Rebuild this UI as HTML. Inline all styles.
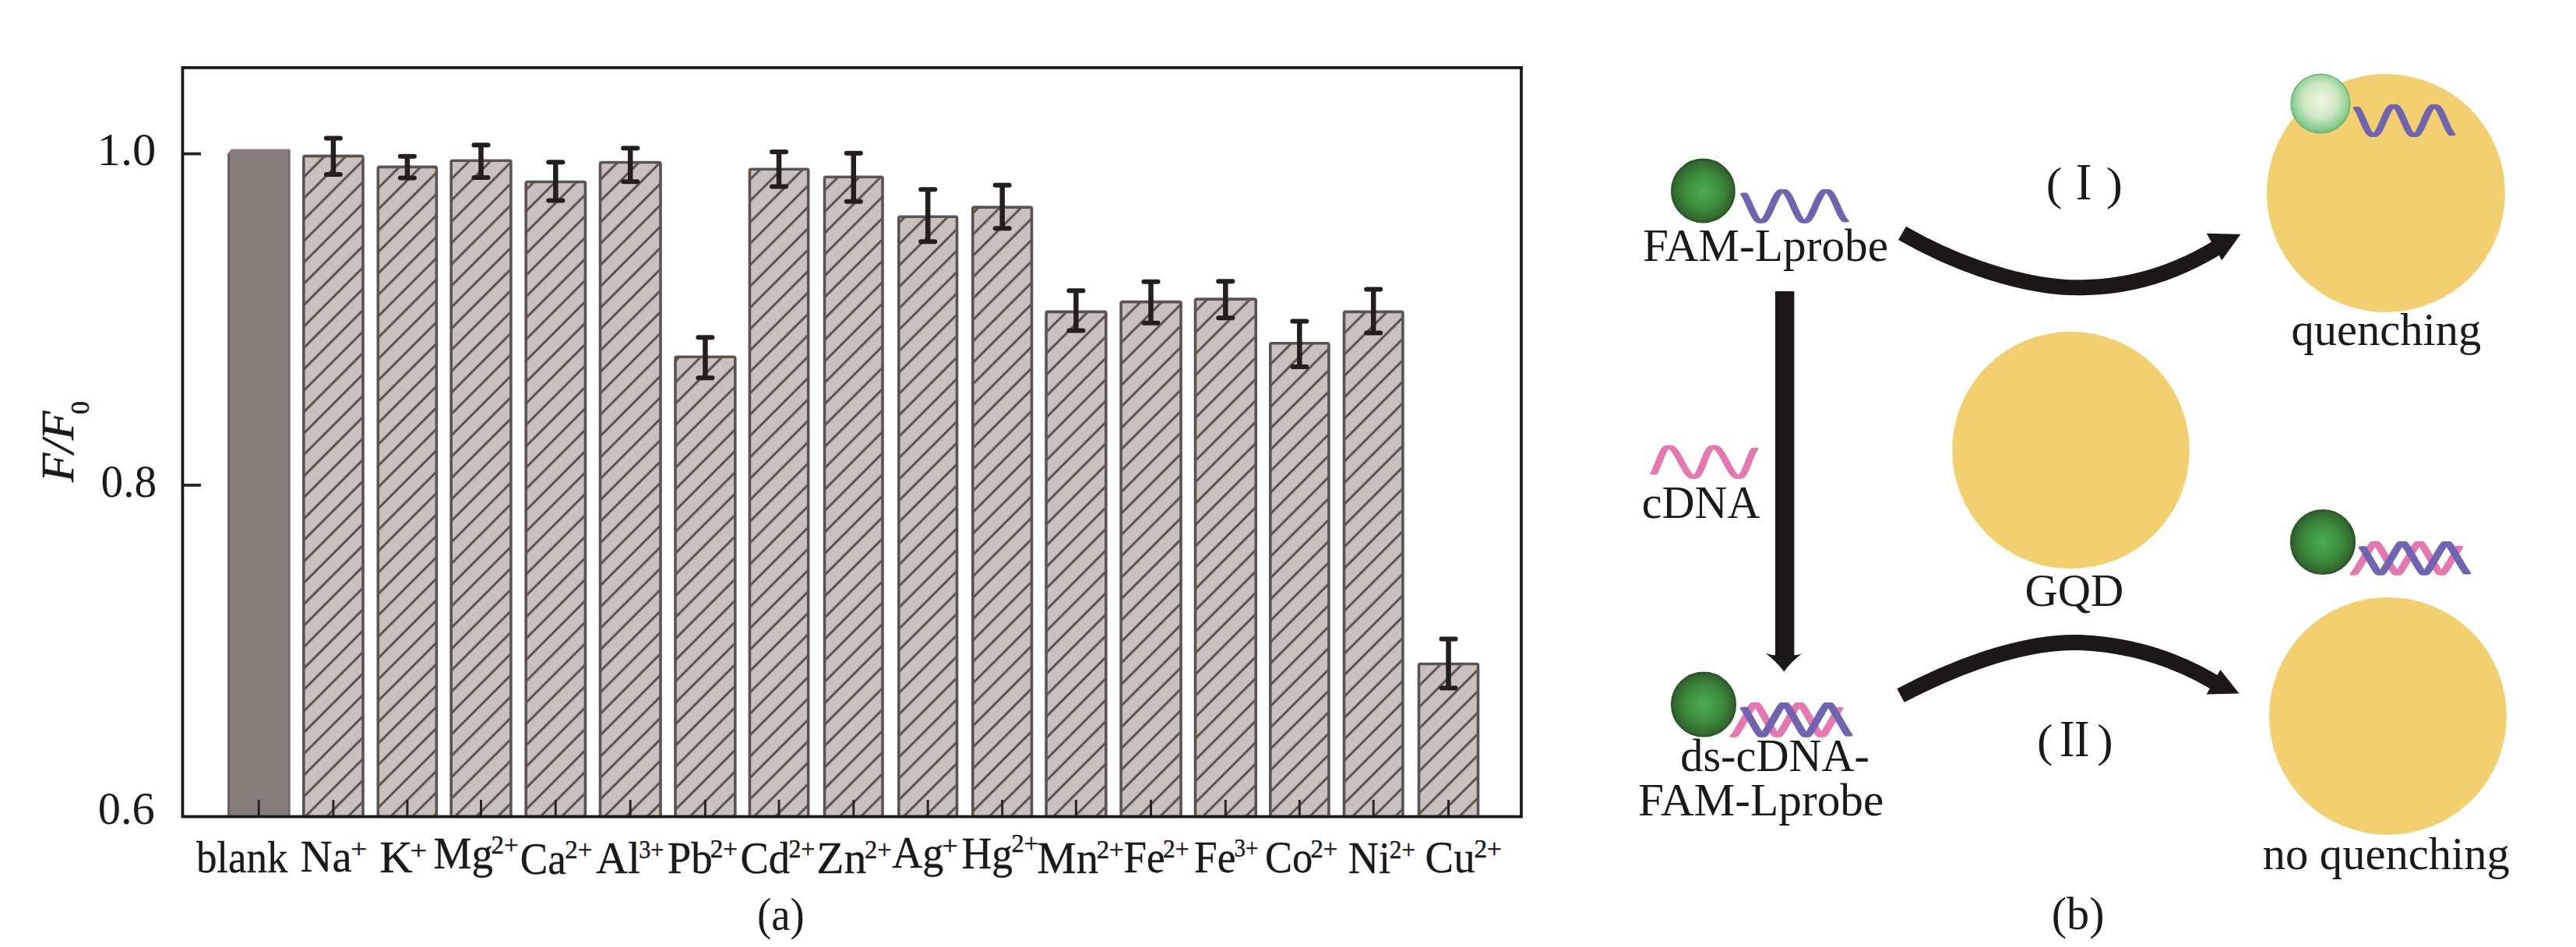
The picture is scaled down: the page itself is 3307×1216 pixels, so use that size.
<!DOCTYPE html>
<html><head><meta charset="utf-8"><style>
html,body{margin:0;padding:0;background:#fff;overflow:hidden;}
svg{display:block;}
text{font-family:"Liberation Serif", serif;}
</style></head><body>
<svg width="3307" height="1216" viewBox="0 0 3307 1216">
<defs>
<pattern id="hatch" patternUnits="userSpaceOnUse" width="60" height="19.4" patternTransform="rotate(-45)">
<rect x="0" y="0" width="60" height="19.4" fill="#c8c1be"/>
<rect x="0" y="8.3" width="60" height="2.8" fill="#514948"/>
</pattern>
<radialGradient id="gdark" cx="0.5" cy="0.5" r="0.52">
<stop offset="0" stop-color="#4aae52"/>
<stop offset="0.55" stop-color="#3d8c3d"/>
<stop offset="0.88" stop-color="#33692f"/>
<stop offset="1" stop-color="#285226"/>
</radialGradient>
<radialGradient id="glight" cx="0.5" cy="0.45" r="0.52">
<stop offset="0" stop-color="#eef6e2"/>
<stop offset="0.55" stop-color="#cfe8c2"/>
<stop offset="0.9" stop-color="#8fcf96"/>
<stop offset="1" stop-color="#7cc486"/>
</radialGradient>
</defs>
<rect x="0" y="0" width="3307" height="1216" fill="#ffffff"/>

<path d="M292.0,197.5 L297.0,191.5 L372.5,191.5 L372.5,1047.0 L292.0,1047.0 Z" fill="#877e7c"/>
<rect x="292.0" y="197.5" width="3.5" height="849.5" fill="#6e6563"/>
<rect x="369.5" y="193.5" width="3" height="853.5" fill="#776e6c"/>
<rect x="389.8" y="200.4" width="76.19999999999999" height="848.1" rx="2" fill="url(#hatch)" stroke="#5b5352" stroke-width="3.6"/>
<rect x="485.3" y="214.4" width="75.09999999999997" height="834.1" rx="2" fill="url(#hatch)" stroke="#5b5352" stroke-width="3.6"/>
<rect x="579.2" y="206.2" width="76.69999999999993" height="842.3" rx="2" fill="url(#hatch)" stroke="#5b5352" stroke-width="3.6"/>
<rect x="675.2" y="233.5" width="76.19999999999993" height="815.0" rx="2" fill="url(#hatch)" stroke="#5b5352" stroke-width="3.6"/>
<rect x="770.5" y="208.5" width="77.5" height="840.0" rx="2" fill="url(#hatch)" stroke="#5b5352" stroke-width="3.6"/>
<rect x="867.0" y="458.2" width="76.79999999999995" height="590.3" rx="2" fill="url(#hatch)" stroke="#5b5352" stroke-width="3.6"/>
<rect x="962.4" y="217.3" width="75.30000000000007" height="831.2" rx="2" fill="url(#hatch)" stroke="#5b5352" stroke-width="3.6"/>
<rect x="1058.5" y="227.3" width="74.5" height="821.2" rx="2" fill="url(#hatch)" stroke="#5b5352" stroke-width="3.6"/>
<rect x="1153.8" y="278.3" width="74.70000000000005" height="770.2" rx="2" fill="url(#hatch)" stroke="#5b5352" stroke-width="3.6"/>
<rect x="1248.8" y="266.1" width="75.70000000000005" height="782.4" rx="2" fill="url(#hatch)" stroke="#5b5352" stroke-width="3.6"/>
<rect x="1343.1" y="400.4" width="76.70000000000005" height="648.1" rx="2" fill="url(#hatch)" stroke="#5b5352" stroke-width="3.6"/>
<rect x="1439.1" y="387.6" width="76.90000000000009" height="660.9" rx="2" fill="url(#hatch)" stroke="#5b5352" stroke-width="3.6"/>
<rect x="1534.5" y="384.1" width="77.70000000000005" height="664.4" rx="2" fill="url(#hatch)" stroke="#5b5352" stroke-width="3.6"/>
<rect x="1630.8" y="440.7" width="75.10000000000014" height="607.8" rx="2" fill="url(#hatch)" stroke="#5b5352" stroke-width="3.6"/>
<rect x="1725.5" y="400.4" width="75.40000000000009" height="648.1" rx="2" fill="url(#hatch)" stroke="#5b5352" stroke-width="3.6"/>
<rect x="1821.5" y="852.5" width="76" height="196.0" rx="2" fill="url(#hatch)" stroke="#5b5352" stroke-width="3.6"/>
<line x1="427.9" y1="177.4" x2="427.9" y2="224.0" stroke="#231f1f" stroke-width="6.5"/>
<line x1="418.9" y1="177.4" x2="436.9" y2="177.4" stroke="#231f1f" stroke-width="6" stroke-linecap="round"/>
<line x1="418.9" y1="224.0" x2="436.9" y2="224.0" stroke="#231f1f" stroke-width="6" stroke-linecap="round"/>
<line x1="522.9" y1="200.7" x2="522.9" y2="228.6" stroke="#231f1f" stroke-width="6.5"/>
<line x1="513.9" y1="200.7" x2="531.9" y2="200.7" stroke="#231f1f" stroke-width="6" stroke-linecap="round"/>
<line x1="513.9" y1="228.6" x2="531.9" y2="228.6" stroke="#231f1f" stroke-width="6" stroke-linecap="round"/>
<line x1="617.5" y1="186.2" x2="617.5" y2="228.0" stroke="#231f1f" stroke-width="6.5"/>
<line x1="608.5" y1="186.2" x2="626.5" y2="186.2" stroke="#231f1f" stroke-width="6" stroke-linecap="round"/>
<line x1="608.5" y1="228.0" x2="626.5" y2="228.0" stroke="#231f1f" stroke-width="6" stroke-linecap="round"/>
<line x1="713.3" y1="208.2" x2="713.3" y2="257.5" stroke="#231f1f" stroke-width="6.5"/>
<line x1="704.3" y1="208.2" x2="722.3" y2="208.2" stroke="#231f1f" stroke-width="6" stroke-linecap="round"/>
<line x1="704.3" y1="257.5" x2="722.3" y2="257.5" stroke="#231f1f" stroke-width="6" stroke-linecap="round"/>
<line x1="809.2" y1="190.2" x2="809.2" y2="233.3" stroke="#231f1f" stroke-width="6.5"/>
<line x1="800.2" y1="190.2" x2="818.2" y2="190.2" stroke="#231f1f" stroke-width="6" stroke-linecap="round"/>
<line x1="800.2" y1="233.3" x2="818.2" y2="233.3" stroke="#231f1f" stroke-width="6" stroke-linecap="round"/>
<line x1="905.4" y1="433.2" x2="905.4" y2="485.3" stroke="#231f1f" stroke-width="6.5"/>
<line x1="896.4" y1="433.2" x2="914.4" y2="433.2" stroke="#231f1f" stroke-width="6" stroke-linecap="round"/>
<line x1="896.4" y1="485.3" x2="914.4" y2="485.3" stroke="#231f1f" stroke-width="6" stroke-linecap="round"/>
<line x1="1000.0" y1="194.9" x2="1000.0" y2="239.6" stroke="#231f1f" stroke-width="6.5"/>
<line x1="991.0" y1="194.9" x2="1009.0" y2="194.9" stroke="#231f1f" stroke-width="6" stroke-linecap="round"/>
<line x1="991.0" y1="239.6" x2="1009.0" y2="239.6" stroke="#231f1f" stroke-width="6" stroke-linecap="round"/>
<line x1="1095.8" y1="196.8" x2="1095.8" y2="258.7" stroke="#231f1f" stroke-width="6.5"/>
<line x1="1086.8" y1="196.8" x2="1104.8" y2="196.8" stroke="#231f1f" stroke-width="6" stroke-linecap="round"/>
<line x1="1086.8" y1="258.7" x2="1104.8" y2="258.7" stroke="#231f1f" stroke-width="6" stroke-linecap="round"/>
<line x1="1191.2" y1="243.3" x2="1191.2" y2="310.2" stroke="#231f1f" stroke-width="6.5"/>
<line x1="1182.2" y1="243.3" x2="1200.2" y2="243.3" stroke="#231f1f" stroke-width="6" stroke-linecap="round"/>
<line x1="1182.2" y1="310.2" x2="1200.2" y2="310.2" stroke="#231f1f" stroke-width="6" stroke-linecap="round"/>
<line x1="1286.7" y1="237.8" x2="1286.7" y2="293.2" stroke="#231f1f" stroke-width="6.5"/>
<line x1="1277.7" y1="237.8" x2="1295.7" y2="237.8" stroke="#231f1f" stroke-width="6" stroke-linecap="round"/>
<line x1="1277.7" y1="293.2" x2="1295.7" y2="293.2" stroke="#231f1f" stroke-width="6" stroke-linecap="round"/>
<line x1="1381.4" y1="373.3" x2="1381.4" y2="424.5" stroke="#231f1f" stroke-width="6.5"/>
<line x1="1372.4" y1="373.3" x2="1390.4" y2="373.3" stroke="#231f1f" stroke-width="6" stroke-linecap="round"/>
<line x1="1372.4" y1="424.5" x2="1390.4" y2="424.5" stroke="#231f1f" stroke-width="6" stroke-linecap="round"/>
<line x1="1477.5" y1="361.8" x2="1477.5" y2="414.7" stroke="#231f1f" stroke-width="6.5"/>
<line x1="1468.5" y1="361.8" x2="1486.5" y2="361.8" stroke="#231f1f" stroke-width="6" stroke-linecap="round"/>
<line x1="1468.5" y1="414.7" x2="1486.5" y2="414.7" stroke="#231f1f" stroke-width="6" stroke-linecap="round"/>
<line x1="1573.3" y1="361.3" x2="1573.3" y2="408.2" stroke="#231f1f" stroke-width="6.5"/>
<line x1="1564.3" y1="361.3" x2="1582.3" y2="361.3" stroke="#231f1f" stroke-width="6" stroke-linecap="round"/>
<line x1="1564.3" y1="408.2" x2="1582.3" y2="408.2" stroke="#231f1f" stroke-width="6" stroke-linecap="round"/>
<line x1="1668.3" y1="412.6" x2="1668.3" y2="470.9" stroke="#231f1f" stroke-width="6.5"/>
<line x1="1659.3" y1="412.6" x2="1677.3" y2="412.6" stroke="#231f1f" stroke-width="6" stroke-linecap="round"/>
<line x1="1659.3" y1="470.9" x2="1677.3" y2="470.9" stroke="#231f1f" stroke-width="6" stroke-linecap="round"/>
<line x1="1763.2" y1="371.6" x2="1763.2" y2="427.5" stroke="#231f1f" stroke-width="6.5"/>
<line x1="1754.2" y1="371.6" x2="1772.2" y2="371.6" stroke="#231f1f" stroke-width="6" stroke-linecap="round"/>
<line x1="1754.2" y1="427.5" x2="1772.2" y2="427.5" stroke="#231f1f" stroke-width="6" stroke-linecap="round"/>
<line x1="1859.5" y1="820.4" x2="1859.5" y2="883.6" stroke="#231f1f" stroke-width="6.5"/>
<line x1="1850.5" y1="820.4" x2="1868.5" y2="820.4" stroke="#231f1f" stroke-width="6" stroke-linecap="round"/>
<line x1="1850.5" y1="883.6" x2="1868.5" y2="883.6" stroke="#231f1f" stroke-width="6" stroke-linecap="round"/>
<line x1="332.2" y1="1027" x2="332.2" y2="1047" stroke="#2a2424" stroke-width="3"/>
<line x1="427.9" y1="1027" x2="427.9" y2="1047" stroke="#2a2424" stroke-width="3"/>
<line x1="522.9" y1="1027" x2="522.9" y2="1047" stroke="#2a2424" stroke-width="3"/>
<line x1="617.5" y1="1027" x2="617.5" y2="1047" stroke="#2a2424" stroke-width="3"/>
<line x1="713.3" y1="1027" x2="713.3" y2="1047" stroke="#2a2424" stroke-width="3"/>
<line x1="809.2" y1="1027" x2="809.2" y2="1047" stroke="#2a2424" stroke-width="3"/>
<line x1="905.4" y1="1027" x2="905.4" y2="1047" stroke="#2a2424" stroke-width="3"/>
<line x1="1000.0" y1="1027" x2="1000.0" y2="1047" stroke="#2a2424" stroke-width="3"/>
<line x1="1095.8" y1="1027" x2="1095.8" y2="1047" stroke="#2a2424" stroke-width="3"/>
<line x1="1191.2" y1="1027" x2="1191.2" y2="1047" stroke="#2a2424" stroke-width="3"/>
<line x1="1286.7" y1="1027" x2="1286.7" y2="1047" stroke="#2a2424" stroke-width="3"/>
<line x1="1381.4" y1="1027" x2="1381.4" y2="1047" stroke="#2a2424" stroke-width="3"/>
<line x1="1477.5" y1="1027" x2="1477.5" y2="1047" stroke="#2a2424" stroke-width="3"/>
<line x1="1573.3" y1="1027" x2="1573.3" y2="1047" stroke="#2a2424" stroke-width="3"/>
<line x1="1668.3" y1="1027" x2="1668.3" y2="1047" stroke="#2a2424" stroke-width="3"/>
<line x1="1763.2" y1="1027" x2="1763.2" y2="1047" stroke="#2a2424" stroke-width="3"/>
<line x1="1859.5" y1="1027" x2="1859.5" y2="1047" stroke="#2a2424" stroke-width="3"/>
<line x1="236" y1="197.5" x2="258" y2="197.5" stroke="#2a2424" stroke-width="3.8"/>
<line x1="236" y1="623.0" x2="258" y2="623.0" stroke="#2a2424" stroke-width="3.8"/>
<rect x="234.4" y="86.9" width="1718.6" height="961.7" fill="none" stroke="#1a1a1a" stroke-width="3.8"/>
<text transform="translate(124.67,212.00) scale(1.0351,1)" font-size="58.5" fill="#1a1a1a" stroke="#1a1a1a" stroke-width="0" style="white-space:pre">1.0</text>
<text transform="translate(129.62,638.00) scale(0.9793,1)" font-size="58.5" fill="#1a1a1a" stroke="#1a1a1a" stroke-width="0" style="white-space:pre">0.8</text>
<text transform="translate(125.78,1058.00) scale(0.9987,1)" font-size="58.5" fill="#1a1a1a" stroke="#1a1a1a" stroke-width="0" style="white-space:pre">0.6</text>
<g transform="translate(93.9,619.4) rotate(-90)"><text transform="translate(0.30,0) scale(1.0215,1)" font-size="59.5" font-style="italic" fill="#1a1a1a" stroke="#1a1a1a" stroke-width="0.5">F/F</text><text x="87.37" y="20" font-size="34" fill="#1a1a1a" stroke="#1a1a1a" stroke-width="0.6">0</text></g>
<text transform="translate(251.90,1120.10) scale(0.9129,1)" font-size="58" fill="#1a1a1a" stroke="#1a1a1a" stroke-width="0.3" style="white-space:pre">blank</text>
<text transform="translate(385.55,1118.90) scale(0.9804,1)" font-size="58" fill="#1a1a1a" stroke="#1a1a1a" stroke-width="0.3" style="white-space:pre">Na</text>
<text transform="translate(450.15,1101.30) scale(1.0903,1)" font-size="34" fill="#1a1a1a" stroke="#1a1a1a" stroke-width="0.5" style="white-space:pre">+</text>
<text transform="translate(487.29,1119.80) scale(1.0138,1)" font-size="58" fill="#1a1a1a" stroke="#1a1a1a" stroke-width="0.3" style="white-space:pre">K</text>
<text transform="translate(526.39,1102.50) scale(1.1220,1)" font-size="34" fill="#1a1a1a" stroke="#1a1a1a" stroke-width="0.5" style="white-space:pre">+</text>
<text transform="translate(556.50,1114.70) scale(0.9508,1)" font-size="58" fill="#1a1a1a" stroke="#1a1a1a" stroke-width="0.3" style="white-space:pre">Mg</text>
<text transform="translate(630.55,1095.90) scale(0.9703,1)" font-size="34" fill="#1a1a1a" stroke="#1a1a1a" stroke-width="0.5" style="white-space:pre">2+</text>
<text transform="translate(667.82,1121.50) scale(0.9152,1)" font-size="58" fill="#1a1a1a" stroke="#1a1a1a" stroke-width="0.3" style="white-space:pre">Ca</text>
<text transform="translate(725.35,1101.80) scale(0.9703,1)" font-size="34" fill="#1a1a1a" stroke="#1a1a1a" stroke-width="0.5" style="white-space:pre">2+</text>
<text transform="translate(765.03,1120.60) scale(0.9786,1)" font-size="58" fill="#1a1a1a" stroke="#1a1a1a" stroke-width="0.3" style="white-space:pre">Al</text>
<text transform="translate(820.25,1101.60) scale(0.8860,1)" font-size="34" fill="#1a1a1a" stroke="#1a1a1a" stroke-width="0.5" style="white-space:pre">3+</text>
<text transform="translate(856.81,1120.60) scale(0.9458,1)" font-size="58" fill="#1a1a1a" stroke="#1a1a1a" stroke-width="0.3" style="white-space:pre">Pb</text>
<text transform="translate(911.64,1101.30) scale(0.9733,1)" font-size="34" fill="#1a1a1a" stroke="#1a1a1a" stroke-width="0.5" style="white-space:pre">2+</text>
<text transform="translate(950.47,1121.10) scale(0.9387,1)" font-size="58" fill="#1a1a1a" stroke="#1a1a1a" stroke-width="0.3" style="white-space:pre">Cd</text>
<text transform="translate(1012.50,1101.30) scale(0.9339,1)" font-size="34" fill="#1a1a1a" stroke="#1a1a1a" stroke-width="0.5" style="white-space:pre">2+</text>
<text transform="translate(1048.23,1120.60) scale(0.9946,1)" font-size="58" fill="#1a1a1a" stroke="#1a1a1a" stroke-width="0.3" style="white-space:pre">Zn</text>
<text transform="translate(1109.98,1101.90) scale(0.9521,1)" font-size="34" fill="#1a1a1a" stroke="#1a1a1a" stroke-width="0.5" style="white-space:pre">2+</text>
<text transform="translate(1145.16,1113.80) scale(0.9358,1)" font-size="58" fill="#1a1a1a" stroke="#1a1a1a" stroke-width="0.3" style="white-space:pre">Ag</text>
<text transform="translate(1209.19,1096.80) scale(1.0649,1)" font-size="34" fill="#1a1a1a" stroke="#1a1a1a" stroke-width="0.5" style="white-space:pre">+</text>
<text transform="translate(1234.44,1114.70) scale(0.9245,1)" font-size="58" fill="#1a1a1a" stroke="#1a1a1a" stroke-width="0.3" style="white-space:pre">Hg</text>
<text transform="translate(1298.57,1093.80) scale(0.9551,1)" font-size="34" fill="#1a1a1a" stroke="#1a1a1a" stroke-width="0.5" style="white-space:pre">2+</text>
<text transform="translate(1331.26,1120.60) scale(0.9775,1)" font-size="58" fill="#1a1a1a" stroke="#1a1a1a" stroke-width="0.3" style="white-space:pre">Mn</text>
<text transform="translate(1407.66,1101.70) scale(0.9642,1)" font-size="34" fill="#1a1a1a" stroke="#1a1a1a" stroke-width="0.5" style="white-space:pre">2+</text>
<text transform="translate(1442.46,1120.00) scale(0.9146,1)" font-size="58" fill="#1a1a1a" stroke="#1a1a1a" stroke-width="0.3" style="white-space:pre">Fe</text>
<text transform="translate(1493.03,1100.80) scale(0.9187,1)" font-size="34" fill="#1a1a1a" stroke="#1a1a1a" stroke-width="0.5" style="white-space:pre">2+</text>
<text transform="translate(1533.05,1120.00) scale(0.9202,1)" font-size="58" fill="#1a1a1a" stroke="#1a1a1a" stroke-width="0.3" style="white-space:pre">Fe</text>
<text transform="translate(1584.51,1100.30) scale(0.8495,1)" font-size="34" fill="#1a1a1a" stroke="#1a1a1a" stroke-width="0.5" style="white-space:pre">3+</text>
<text transform="translate(1624.05,1120.20) scale(0.9057,1)" font-size="58" fill="#1a1a1a" stroke="#1a1a1a" stroke-width="0.3" style="white-space:pre">Co</text>
<text transform="translate(1682.57,1101.00) scale(0.9582,1)" font-size="34" fill="#1a1a1a" stroke="#1a1a1a" stroke-width="0.5" style="white-space:pre">2+</text>
<text transform="translate(1730.83,1120.90) scale(0.9355,1)" font-size="58" fill="#1a1a1a" stroke="#1a1a1a" stroke-width="0.3" style="white-space:pre">Ni</text>
<text transform="translate(1783.82,1102.20) scale(0.9218,1)" font-size="34" fill="#1a1a1a" stroke="#1a1a1a" stroke-width="0.5" style="white-space:pre">2+</text>
<text transform="translate(1829.55,1120.20) scale(0.9461,1)" font-size="58" fill="#1a1a1a" stroke="#1a1a1a" stroke-width="0.3" style="white-space:pre">Cu</text>
<text transform="translate(1892.43,1101.00) scale(0.9794,1)" font-size="34" fill="#1a1a1a" stroke="#1a1a1a" stroke-width="0.5" style="white-space:pre">2+</text>
<text transform="translate(972.10,1193.50) scale(0.9263,1)" font-size="59" fill="#1a1a1a" stroke="#1a1a1a" stroke-width="0" style="white-space:pre">(a)</text>
<circle cx="3063" cy="248" r="153" fill="#f3d06f"/>
<circle cx="2658.5" cy="578" r="152.3" fill="#f3d06f"/>
<circle cx="3065.5" cy="919.4" r="152.5" fill="#f3d06f"/>
<circle cx="2186.4" cy="245" r="40.5" fill="url(#gdark)" stroke="#2b5528" stroke-width="1.8"/>
<circle cx="2187" cy="904.5" r="41.2" fill="url(#gdark)" stroke="#2b5528" stroke-width="1.8"/>
<circle cx="2982" cy="696" r="41.2" fill="url(#gdark)" stroke="#2b5528" stroke-width="1.8"/>
<circle cx="2979" cy="133" r="37.8" fill="url(#glight)" stroke="#66b673" stroke-width="1.6"/>
<g fill="none" stroke="#7064b0" stroke-width="3.0" stroke-linejoin="round"><path id="p3059" d="M2238.26,248.20 L2238.51,248.53 L2238.76,248.88 L2239.01,249.24 L2239.26,249.61 L2239.51,250.00 L2239.76,250.39 L2240.01,250.80 L2240.26,251.22 L2240.51,251.64 L2240.76,252.08 L2241.01,252.53 L2241.26,252.99 L2241.51,253.46 L2241.76,253.93 L2242.01,254.42 L2242.26,254.91 L2242.51,255.41 L2242.76,255.92 L2243.01,256.44 L2243.26,256.96 L2243.51,257.48 L2243.76,258.02 L2244.01,258.56 L2244.26,259.10 L2244.51,259.65 L2244.75,260.20 L2245.00,260.76 L2245.25,261.31 L2245.50,261.88 L2245.75,262.44 L2246.00,263.00 L2246.25,263.57 L2246.50,264.14 L2246.75,264.71 L2247.00,265.27 L2247.25,265.84 L2247.50,266.41 L2247.75,266.97 L2248.00,267.54 L2248.25,268.10 L2248.50,268.66 L2248.75,269.21 L2249.00,269.77 L2249.25,270.31 L2249.50,270.86 L2249.75,271.40 L2250.00,271.93 L2250.25,272.46 L2250.50,272.98 L2250.75,273.49 L2251.00,274.00 L2251.25,274.50 L2251.50,274.99 L2251.75,275.48 L2252.00,275.95 L2252.25,276.42 L2252.50,276.88 L2252.75,277.33 L2253.00,277.77 L2253.25,278.19 L2253.50,278.61 L2253.75,279.02 L2254.00,279.41 L2254.25,279.80 L2254.50,280.17 L2254.75,280.53 L2255.00,280.87 L2255.25,281.21 L2255.49,281.53 L2255.74,281.84 L2255.99,282.13 L2256.24,282.41 L2256.49,282.68 L2256.74,282.93 L2256.99,283.17 L2257.24,283.39 L2257.49,283.60 L2257.74,283.79 L2257.99,283.97 L2258.24,284.13 L2258.49,284.28 L2258.74,284.41 L2258.99,284.53 L2259.24,284.63 L2259.49,284.71 L2259.74,284.78 L2259.99,284.84 L2260.24,284.87 L2260.49,284.89 L2260.74,284.90 L2260.99,284.89 L2261.24,284.86 L2261.49,284.82 L2261.74,284.76 L2261.99,284.69 L2262.24,284.60 L2262.49,284.49 L2262.74,284.37 L2262.99,284.23 L2263.24,284.08 L2263.49,283.91 L2263.74,283.73 L2263.99,283.53 L2264.24,283.32 L2264.49,283.09 L2264.74,282.85 L2264.99,282.59 L2265.24,282.32 L2265.49,282.04 L2265.74,281.74 L2265.99,281.43 L2266.24,281.10 L2266.48,280.76 L2266.73,280.41 L2266.98,280.05 L2267.23,279.67 L2267.48,279.29 L2267.73,278.89 L2267.98,278.48 L2268.23,278.06 L2268.48,277.63 L2268.73,277.19 L2268.98,276.73 L2269.23,276.27 L2269.48,275.80 L2269.73,275.32 L2269.98,274.84 L2270.23,274.34 L2270.48,273.84 L2270.73,273.33 L2270.98,272.81 L2271.23,272.29 L2271.48,271.76 L2271.73,271.22 L2271.98,270.68 L2272.23,270.14 L2272.48,269.59 L2272.73,269.04 L2272.98,268.48 L2273.23,267.92 L2273.48,267.36 L2273.73,266.79 L2273.98,266.23 L2274.23,265.66 L2274.48,265.09 L2274.73,264.52 L2274.98,263.96 L2275.23,263.39 L2275.48,262.82 L2275.73,262.26 L2275.98,261.70 L2276.23,261.13 L2276.48,260.58 L2276.73,260.02 L2276.98,259.47 L2277.22,258.92 L2277.47,258.38 L2277.72,257.85 L2277.97,257.31 L2278.22,256.79 L2278.47,256.27 L2278.72,255.76 L2278.97,255.25 L2279.22,254.75 L2279.47,254.26 L2279.72,253.78 L2279.97,253.31 L2280.22,252.84 L2280.47,252.39 L2280.72,251.94 L2280.97,251.51 L2281.22,251.08 L2281.47,250.67 L2281.72,250.26 L2281.97,249.87 L2282.22,249.49 L2282.47,249.12 L2282.72,248.77 L2282.97,248.43 L2283.22,248.10 L2283.47,247.78 L2283.72,247.48 L2283.97,247.19 L2284.22,246.91 L2284.47,246.65 L2284.72,246.40 L2284.97,246.17 L2285.22,245.95 L2285.47,245.74 L2285.72,245.56 L2285.97,245.38 L2286.22,245.22 L2286.47,245.08 L2286.72,244.95 L2286.97,244.84 L2287.22,244.74 L2287.47,244.66 L2287.72,244.60 L2287.96,244.55 L2288.21,244.52 L2288.46,244.50 L2288.71,244.50 L2288.96,244.52 L2289.21,244.55 L2289.46,244.60 L2289.71,244.66 L2289.96,244.74 L2290.21,244.83 L2290.46,244.94 L2290.71,245.07 L2290.96,245.21 L2291.21,245.37 L2291.46,245.54 L2291.71,245.73 L2291.96,245.93 L2292.21,246.15 L2292.46,246.38 L2292.71,246.63 L2292.96,246.89 L2293.21,247.16 L2293.46,247.45 L2293.71,247.75 L2293.96,248.07 L2294.21,248.40 L2294.46,248.74 L2294.71,249.09 L2294.96,249.46 L2295.21,249.84 L2295.46,250.23 L2295.71,250.63 L2295.96,251.04 L2296.21,251.47 L2296.46,251.90 L2296.71,252.35 L2296.96,252.80 L2297.21,253.27 L2297.46,253.74 L2297.71,254.22 L2297.96,254.71 L2298.21,255.21 L2298.46,255.71 L2298.71,256.23 L2298.95,256.74 L2299.20,257.27 L2299.45,257.80 L2299.70,258.34 L2299.95,258.88 L2300.20,259.43 L2300.45,259.98 L2300.70,260.53 L2300.95,261.09 L2301.20,261.65 L2301.45,262.21 L2301.70,262.77 L2301.95,263.34 L2302.20,263.91 L2302.45,264.48 L2302.70,265.04 L2302.95,265.61 L2303.20,266.18 L2303.45,266.75 L2303.70,267.31 L2303.95,267.87 L2304.20,268.43 L2304.45,268.99 L2304.70,269.54 L2304.95,270.09 L2305.20,270.64 L2305.45,271.18 L2305.70,271.71 L2305.95,272.24 L2306.20,272.77 L2306.45,273.28 L2306.70,273.79 L2306.95,274.30 L2307.20,274.79 L2307.45,275.28 L2307.70,275.76 L2307.95,276.23 L2308.20,276.69 L2308.45,277.15 L2308.70,277.59 L2308.95,278.02 L2309.20,278.44 L2309.45,278.85 L2309.69,279.25 L2309.94,279.64 L2310.19,280.02 L2310.44,280.38 L2310.69,280.73 L2310.94,281.07 L2311.19,281.40 L2311.44,281.71 L2311.69,282.01 L2311.94,282.30 L2312.19,282.57 L2312.44,282.83 L2312.69,283.07 L2312.94,283.30 L2313.19,283.51 L2313.44,283.71 L2313.69,283.90 L2313.94,284.07 L2314.19,284.22 L2314.44,284.36 L2314.69,284.48 L2314.94,284.59 L2315.19,284.68 L2315.44,284.76 L2315.69,284.82 L2315.94,284.86 L2316.19,284.89 L2316.44,284.90 L2316.69,284.90 L2316.94,284.88 L2317.19,284.84 L2317.44,284.79 L2317.69,284.72 L2317.94,284.64 L2318.19,284.54 L2318.44,284.42 L2318.69,284.29 L2318.94,284.14 L2319.19,283.98 L2319.44,283.81 L2319.69,283.61 L2319.94,283.41 L2320.19,283.19 L2320.44,282.95 L2320.68,282.70 L2320.93,282.43 L2321.18,282.15 L2321.43,281.86 L2321.68,281.56 L2321.93,281.24 L2322.18,280.90 L2322.43,280.56 L2322.68,280.20 L2322.93,279.83 L2323.18,279.45 L2323.43,279.05 L2323.68,278.65 L2323.93,278.23 L2324.18,277.80 L2324.43,277.37 L2324.68,276.92 L2324.93,276.46 L2325.18,275.99 L2325.43,275.52 L2325.68,275.04 L2325.93,274.54 L2326.18,274.04 L2326.43,273.54 L2326.68,273.02 L2326.93,272.50 L2327.18,271.97 L2327.43,271.44 L2327.68,270.90 L2327.93,270.36 L2328.18,269.81 L2328.43,269.26 L2328.68,268.71 L2328.93,268.15 L2329.18,267.59 L2329.43,267.02 L2329.68,266.46 L2329.93,265.89 L2330.18,265.32 L2330.43,264.76 L2330.68,264.19 L2330.93,263.62 L2331.18,263.05 L2331.42,262.49 L2331.67,261.92 L2331.92,261.36 L2332.17,260.80 L2332.42,260.25 L2332.67,259.69 L2332.92,259.15 L2333.17,258.60 L2333.42,258.06 L2333.67,257.53 L2333.92,257.00 L2334.17,256.48 L2334.42,255.96 L2334.67,255.45 L2334.92,254.95 L2335.17,254.46 L2335.42,253.97 L2335.67,253.50 L2335.92,253.03 L2336.17,252.57 L2336.42,252.12 L2336.67,251.68 L2336.92,251.25 L2337.17,250.83 L2337.42,250.43 L2337.67,250.03 L2337.92,249.64 L2338.17,249.27 L2338.42,248.91 L2338.67,248.56 L2338.92,248.23 L2339.17,247.91 L2339.42,247.60 L2339.67,247.30 L2339.92,247.02 L2340.17,246.75 L2340.42,246.50 L2340.67,246.26 L2340.92,246.03 L2341.17,245.82 L2341.42,245.63 L2341.67,245.45 L2341.92,245.29 L2342.16,245.14 L2342.41,245.00 L2342.66,244.88 L2342.91,244.78 L2343.16,244.70 L2343.41,244.62 L2343.66,244.57 L2343.91,244.53 L2344.16,244.51 L2344.41,244.50 L2344.66,244.51 L2344.91,244.53 L2345.16,244.57 L2345.41,244.63 L2345.66,244.70 L2345.91,244.79 L2346.16,244.90 L2346.41,245.02 L2346.66,245.15 L2346.91,245.30 L2347.16,245.47 L2347.41,245.65 L2347.66,245.85 L2347.91,246.06 L2348.16,246.28 L2348.41,246.52 L2348.66,246.78 L2348.91,247.05 L2349.16,247.33 L2349.41,247.63 L2349.66,247.94 L2349.91,248.26 L2350.16,248.60 L2350.41,248.95 L2350.66,249.31 L2350.91,249.68 L2351.16,250.07 L2351.41,250.47 L2351.66,250.88 L2351.91,251.30 L2352.16,251.73 L2352.41,252.17 L2352.66,252.62 L2352.91,253.08 L2353.15,253.55 L2353.40,254.02 L2353.65,254.51 L2353.90,255.00 L2354.15,255.51 L2354.40,256.02 L2354.65,256.53 L2354.90,257.06 L2355.15,257.58 L2355.40,258.12 L2355.65,258.66 L2355.90,259.20 L2356.15,259.75 L2356.40,260.30 L2356.65,260.86 L2356.90,261.42 L2357.15,261.98 L2357.40,262.55 L2357.65,263.11 L2357.90,263.68 L2358.15,264.25 L2358.40,264.81 L2358.65,265.38 L2358.90,265.95 L2359.15,266.52 L2359.40,267.08 L2359.65,267.64 L2359.90,268.20 L2360.15,268.76 L2360.40,269.32 L2360.65,269.87 L2360.90,270.42 L2361.15,270.96 L2361.40,271.50 L2361.65,272.03 L2361.90,272.55 L2362.15,273.07 L2362.40,273.59 L2362.65,274.09 L2362.90,274.59 L2363.15,275.09 L2363.40,275.57 L2363.65,276.04 L2363.89,276.51 L2364.14,276.96 L2364.39,277.41 L2364.64,277.85 L2364.89,278.27 L2365.14,278.69 L2365.39,279.09 L2365.64,279.49 L2365.89,279.87 L2366.14,280.24 L2366.39,280.59 L2366.64,280.94 L2366.89,281.27 L2367.14,281.59 L2367.39,281.89 L2367.64,282.18 L2367.89,282.46 L2368.14,282.73 L2368.39,282.97 L2368.64,283.21 L2368.89,283.43 L2369.14,283.63 L2369.39,283.83 L2369.64,284.00 L2369.89,284.16 L2370.14,284.30"/><use href="#p3059" transform="translate(-3.25,0)"/><use href="#p3059" transform="translate(-1.95,0)"/><use href="#p3059" transform="translate(-0.65,0)"/><use href="#p3059" transform="translate(0.65,0)"/><use href="#p3059" transform="translate(1.95,0)"/><use href="#p3059" transform="translate(3.25,0)"/></g>
<g fill="none" stroke="#7064b0" stroke-width="3.0" stroke-linejoin="round"><path id="p99794" d="M3024.68,137.77 L3024.92,138.03 L3025.15,138.30 L3025.39,138.59 L3025.62,138.89 L3025.86,139.20 L3026.09,139.52 L3026.33,139.86 L3026.56,140.20 L3026.80,140.56 L3027.03,140.93 L3027.27,141.32 L3027.50,141.71 L3027.74,142.11 L3027.97,142.53 L3028.21,142.95 L3028.44,143.38 L3028.68,143.83 L3028.91,144.28 L3029.15,144.74 L3029.38,145.20 L3029.62,145.68 L3029.85,146.16 L3030.09,146.65 L3030.32,147.15 L3030.56,147.65 L3030.79,148.16 L3031.03,148.67 L3031.26,149.19 L3031.50,149.72 L3031.73,150.24 L3031.97,150.78 L3032.20,151.31 L3032.44,151.85 L3032.67,152.39 L3032.90,152.93 L3033.14,153.48 L3033.37,154.02 L3033.61,154.57 L3033.84,155.11 L3034.08,155.66 L3034.31,156.20 L3034.55,156.75 L3034.78,157.29 L3035.02,157.83 L3035.25,158.37 L3035.49,158.91 L3035.72,159.44 L3035.96,159.97 L3036.19,160.49 L3036.43,161.01 L3036.66,161.53 L3036.90,162.04 L3037.13,162.55 L3037.37,163.05 L3037.60,163.54 L3037.84,164.02 L3038.07,164.50 L3038.31,164.97 L3038.54,165.44 L3038.78,165.89 L3039.01,166.34 L3039.25,166.78 L3039.48,167.20 L3039.72,167.62 L3039.95,168.03 L3040.19,168.43 L3040.42,168.81 L3040.66,169.19 L3040.89,169.55 L3041.13,169.90 L3041.36,170.24 L3041.60,170.57 L3041.83,170.89 L3042.07,171.19 L3042.30,171.48 L3042.54,171.76 L3042.77,172.02 L3043.01,172.27 L3043.24,172.51 L3043.48,172.73 L3043.71,172.94 L3043.95,173.13 L3044.18,173.31 L3044.42,173.48 L3044.65,173.63 L3044.89,173.76 L3045.12,173.88 L3045.36,173.99 L3045.59,174.08 L3045.83,174.15 L3046.06,174.21 L3046.30,174.26 L3046.53,174.29 L3046.76,174.30 L3047.00,174.30 L3047.23,174.28 L3047.47,174.25 L3047.70,174.20 L3047.94,174.13 L3048.17,174.06 L3048.41,173.96 L3048.64,173.85 L3048.88,173.73 L3049.11,173.59 L3049.35,173.43 L3049.58,173.27 L3049.82,173.08 L3050.05,172.88 L3050.29,172.67 L3050.52,172.45 L3050.76,172.21 L3050.99,171.95 L3051.23,171.68 L3051.46,171.40 L3051.70,171.11 L3051.93,170.80 L3052.17,170.48 L3052.40,170.15 L3052.64,169.81 L3052.87,169.45 L3053.11,169.08 L3053.34,168.71 L3053.58,168.32 L3053.81,167.92 L3054.05,167.51 L3054.28,167.09 L3054.52,166.66 L3054.75,166.22 L3054.99,165.77 L3055.22,165.31 L3055.46,164.85 L3055.69,164.37 L3055.93,163.89 L3056.16,163.40 L3056.40,162.91 L3056.63,162.41 L3056.87,161.90 L3057.10,161.39 L3057.34,160.87 L3057.57,160.35 L3057.81,159.82 L3058.04,159.29 L3058.28,158.76 L3058.51,158.22 L3058.75,157.68 L3058.98,157.14 L3059.22,156.60 L3059.45,156.05 L3059.69,155.51 L3059.92,154.96 L3060.15,154.42 L3060.39,153.87 L3060.62,153.33 L3060.86,152.78 L3061.09,152.24 L3061.33,151.70 L3061.56,151.16 L3061.80,150.63 L3062.03,150.10 L3062.27,149.57 L3062.50,149.05 L3062.74,148.53 L3062.97,148.02 L3063.21,147.51 L3063.44,147.01 L3063.68,146.52 L3063.91,146.03 L3064.15,145.55 L3064.38,145.07 L3064.62,144.61 L3064.85,144.15 L3065.09,143.70 L3065.32,143.26 L3065.56,142.83 L3065.79,142.41 L3066.03,142.00 L3066.26,141.60 L3066.50,141.21 L3066.73,140.83 L3066.97,140.46 L3067.20,140.11 L3067.44,139.76 L3067.67,139.43 L3067.91,139.11 L3068.14,138.80 L3068.38,138.51 L3068.61,138.23 L3068.85,137.96 L3069.08,137.70 L3069.32,137.46 L3069.55,137.24 L3069.79,137.02 L3070.02,136.83 L3070.26,136.64 L3070.49,136.47 L3070.73,136.32 L3070.96,136.18 L3071.20,136.05 L3071.43,135.94 L3071.67,135.85 L3071.90,135.77 L3072.14,135.70 L3072.37,135.66 L3072.61,135.62 L3072.84,135.60 L3073.08,135.60 L3073.31,135.61 L3073.54,135.64 L3073.78,135.68 L3074.01,135.74 L3074.25,135.82 L3074.48,135.91 L3074.72,136.01 L3074.95,136.13 L3075.19,136.27 L3075.42,136.41 L3075.66,136.58 L3075.89,136.76 L3076.13,136.95 L3076.36,137.16 L3076.60,137.38 L3076.83,137.62 L3077.07,137.87 L3077.30,138.13 L3077.54,138.41 L3077.77,138.70 L3078.01,139.00 L3078.24,139.31 L3078.48,139.64 L3078.71,139.98 L3078.95,140.33 L3079.18,140.70 L3079.42,141.07 L3079.65,141.46 L3079.89,141.85 L3080.12,142.26 L3080.36,142.68 L3080.59,143.11 L3080.83,143.54 L3081.06,143.99 L3081.30,144.44 L3081.53,144.91 L3081.77,145.38 L3082.00,145.85 L3082.24,146.34 L3082.47,146.83 L3082.71,147.33 L3082.94,147.84 L3083.18,148.35 L3083.41,148.86 L3083.65,149.38 L3083.88,149.91 L3084.12,150.44 L3084.35,150.97 L3084.59,151.51 L3084.82,152.05 L3085.06,152.59 L3085.29,153.13 L3085.53,153.67 L3085.76,154.22 L3086.00,154.76 L3086.23,155.31 L3086.47,155.86 L3086.70,156.40 L3086.93,156.95 L3087.17,157.49 L3087.40,158.03 L3087.64,158.57 L3087.87,159.10 L3088.11,159.63 L3088.34,160.16 L3088.58,160.68 L3088.81,161.20 L3089.05,161.72 L3089.28,162.23 L3089.52,162.73 L3089.75,163.23 L3089.99,163.72 L3090.22,164.20 L3090.46,164.68 L3090.69,165.14 L3090.93,165.60 L3091.16,166.06 L3091.40,166.50 L3091.63,166.93 L3091.87,167.36 L3092.10,167.77 L3092.34,168.17 L3092.57,168.57 L3092.81,168.95 L3093.04,169.32 L3093.28,169.68 L3093.51,170.03 L3093.75,170.37 L3093.98,170.69 L3094.22,171.00 L3094.45,171.30 L3094.69,171.58 L3094.92,171.86 L3095.16,172.12 L3095.39,172.36 L3095.63,172.59 L3095.86,172.81 L3096.10,173.01 L3096.33,173.20 L3096.57,173.38 L3096.80,173.53 L3097.04,173.68 L3097.27,173.81 L3097.51,173.92 L3097.74,174.02 L3097.98,174.11 L3098.21,174.18 L3098.45,174.23 L3098.68,174.27 L3098.92,174.29 L3099.15,174.30 L3099.39,174.29 L3099.62,174.27 L3099.86,174.23 L3100.09,174.18 L3100.32,174.11 L3100.56,174.02 L3100.79,173.92 L3101.03,173.81 L3101.26,173.68 L3101.50,173.53 L3101.73,173.37 L3101.97,173.20 L3102.20,173.01 L3102.44,172.81 L3102.67,172.59 L3102.91,172.36 L3103.14,172.12 L3103.38,171.86 L3103.61,171.58 L3103.85,171.30 L3104.08,171.00 L3104.32,170.69 L3104.55,170.36 L3104.79,170.03 L3105.02,169.68 L3105.26,169.32 L3105.49,168.95 L3105.73,168.57 L3105.96,168.17 L3106.20,167.77 L3106.43,167.35 L3106.67,166.93 L3106.90,166.50 L3107.14,166.05 L3107.37,165.60 L3107.61,165.14 L3107.84,164.67 L3108.08,164.20 L3108.31,163.72 L3108.55,163.22 L3108.78,162.73 L3109.02,162.22 L3109.25,161.72 L3109.49,161.20 L3109.72,160.68 L3109.96,160.16 L3110.19,159.63 L3110.43,159.10 L3110.66,158.56 L3110.90,158.03 L3111.13,157.49 L3111.37,156.94 L3111.60,156.40 L3111.84,155.85 L3112.07,155.31 L3112.31,154.76 L3112.54,154.22 L3112.78,153.67 L3113.01,153.13 L3113.25,152.58 L3113.48,152.04 L3113.71,151.50 L3113.95,150.97 L3114.18,150.44 L3114.42,149.91 L3114.65,149.38 L3114.89,148.86 L3115.12,148.35 L3115.36,147.83 L3115.59,147.33 L3115.83,146.83 L3116.06,146.34 L3116.30,145.85 L3116.53,145.37 L3116.77,144.90 L3117.00,144.44 L3117.24,143.99 L3117.47,143.54 L3117.71,143.10 L3117.94,142.68 L3118.18,142.26 L3118.41,141.85 L3118.65,141.46 L3118.88,141.07 L3119.12,140.70 L3119.35,140.33 L3119.59,139.98 L3119.82,139.64 L3120.06,139.31 L3120.29,139.00 L3120.53,138.69 L3120.76,138.40 L3121.00,138.13 L3121.23,137.87 L3121.47,137.62 L3121.70,137.38 L3121.94,137.16 L3122.17,136.95 L3122.41,136.76 L3122.64,136.58 L3122.88,136.41 L3123.11,136.26 L3123.35,136.13 L3123.58,136.01 L3123.82,135.91 L3124.05,135.82 L3124.29,135.74 L3124.52,135.68 L3124.76,135.64 L3124.99,135.61 L3125.23,135.60 L3125.46,135.60 L3125.70,135.62 L3125.93,135.66 L3126.17,135.70 L3126.40,135.77 L3126.64,135.85 L3126.87,135.94 L3127.10,136.05 L3127.34,136.18 L3127.57,136.32 L3127.81,136.47 L3128.04,136.64 L3128.28,136.83 L3128.51,137.03 L3128.75,137.24 L3128.98,137.46 L3129.22,137.71 L3129.45,137.96 L3129.69,138.23 L3129.92,138.51 L3130.16,138.80 L3130.39,139.11 L3130.63,139.43 L3130.86,139.76 L3131.10,140.11 L3131.33,140.46 L3131.57,140.83 L3131.80,141.21 L3132.04,141.60 L3132.27,142.00 L3132.51,142.41 L3132.74,142.83 L3132.98,143.26 L3133.21,143.70 L3133.45,144.15 L3133.68,144.61 L3133.92,145.08 L3134.15,145.55 L3134.39,146.03 L3134.62,146.52 L3134.86,147.01 L3135.09,147.51 L3135.33,148.02 L3135.56,148.53 L3135.80,149.05 L3136.03,149.57 L3136.27,150.10 L3136.50,150.63 L3136.74,151.17 L3136.97,151.70 L3137.21,152.24 L3137.44,152.78 L3137.68,153.33 L3137.91,153.87 L3138.15,154.42 L3138.38,154.96 L3138.62,155.51 L3138.85,156.06 L3139.09,156.60 L3139.32,157.14 L3139.56,157.68 L3139.79,158.22 L3140.03,158.76 L3140.26,159.29 L3140.50,159.83 L3140.73,160.35 L3140.96,160.87 L3141.20,161.39 L3141.43,161.90 L3141.67,162.41 L3141.90,162.91 L3142.14,163.41 L3142.37,163.89 L3142.61,164.37 L3142.84,164.85 L3143.08,165.31 L3143.31,165.77 L3143.55,166.22 L3143.78,166.66 L3144.02,167.09 L3144.25,167.51 L3144.49,167.92 L3144.72,168.32 L3144.96,168.71 L3145.19,169.09 L3145.43,169.45 L3145.66,169.81 L3145.90,170.15 L3146.13,170.48 L3146.37,170.80 L3146.60,171.11 L3146.84,171.40 L3147.07,171.69 L3147.31,171.95 L3147.54,172.21 L3147.78,172.45 L3148.01,172.67 L3148.25,172.89 L3148.48,173.08 L3148.72,173.27"/><use href="#p99794" transform="translate(-3.25,0)"/><use href="#p99794" transform="translate(-1.95,0)"/><use href="#p99794" transform="translate(-0.65,0)"/><use href="#p99794" transform="translate(0.65,0)"/><use href="#p99794" transform="translate(1.95,0)"/><use href="#p99794" transform="translate(3.25,0)"/></g>
<g fill="none" stroke="#e678b0" stroke-width="3.0" stroke-linejoin="round"><path id="p46986" d="M2122.36,608.94 L2122.59,608.60 L2122.81,608.26 L2123.03,607.90 L2123.26,607.53 L2123.48,607.16 L2123.70,606.77 L2123.92,606.37 L2124.14,605.96 L2124.35,605.55 L2124.57,605.12 L2124.79,604.68 L2125.00,604.24 L2125.22,603.79 L2125.43,603.33 L2125.65,602.86 L2125.86,602.38 L2126.08,601.90 L2126.29,601.41 L2126.50,600.92 L2126.71,600.42 L2126.92,599.91 L2127.13,599.40 L2127.34,598.89 L2127.56,598.37 L2127.77,597.85 L2127.97,597.32 L2128.18,596.79 L2128.39,596.26 L2128.60,595.72 L2128.81,595.19 L2129.02,594.65 L2129.23,594.11 L2129.44,593.57 L2129.65,593.03 L2129.86,592.49 L2130.06,591.95 L2130.27,591.41 L2130.48,590.87 L2130.69,590.34 L2130.90,589.80 L2131.11,589.27 L2131.32,588.74 L2131.53,588.22 L2131.74,587.70 L2131.95,587.18 L2132.16,586.67 L2132.37,586.16 L2132.58,585.65 L2132.80,585.16 L2133.01,584.66 L2133.22,584.18 L2133.43,583.70 L2133.65,583.23 L2133.86,582.76 L2134.08,582.31 L2134.29,581.86 L2134.51,581.42 L2134.73,580.99 L2134.94,580.57 L2135.16,580.15 L2135.38,579.75 L2135.60,579.36 L2135.82,578.97 L2136.04,578.60 L2136.27,578.24 L2136.49,577.89 L2136.71,577.55 L2136.94,577.22 L2137.16,576.90 L2137.39,576.60 L2137.62,576.31 L2137.85,576.03 L2138.07,575.76 L2138.31,575.50 L2138.54,575.26 L2138.77,575.04 L2139.00,574.82 L2139.24,574.62 L2139.47,574.43 L2139.71,574.26 L2139.95,574.10 L2140.18,573.96 L2140.42,573.83 L2140.66,573.71 L2140.91,573.61 L2141.15,573.52 L2141.39,573.45 L2141.64,573.39 L2141.89,573.35 L2142.13,573.32 L2142.38,573.30 L2142.63,573.30 L2142.88,573.32 L2143.13,573.35 L2143.39,573.39 L2143.64,573.45 L2143.90,573.52 L2144.15,573.61 L2144.41,573.71 L2144.67,573.83 L2144.93,573.96 L2145.19,574.11 L2145.45,574.27 L2145.71,574.44 L2145.98,574.63 L2146.24,574.83 L2146.51,575.05 L2146.77,575.27 L2147.04,575.52 L2147.31,575.77 L2147.58,576.04 L2147.85,576.32 L2148.12,576.61 L2148.39,576.92 L2148.67,577.23 L2148.94,577.56 L2149.22,577.90 L2149.49,578.25 L2149.77,578.62 L2150.05,578.99 L2150.33,579.37 L2150.61,579.77 L2150.89,580.17 L2151.17,580.58 L2151.45,581.01 L2151.73,581.44 L2152.01,581.88 L2152.30,582.33 L2152.58,582.79 L2152.87,583.25 L2153.15,583.72 L2153.44,584.20 L2153.72,584.69 L2154.01,585.18 L2154.30,585.68 L2154.58,586.18 L2154.87,586.69 L2155.16,587.20 L2155.45,587.72 L2155.74,588.24 L2156.03,588.77 L2156.32,589.30 L2156.61,589.83 L2156.90,590.36 L2157.19,590.90 L2157.48,591.43 L2157.77,591.97 L2158.06,592.51 L2158.35,593.05 L2158.64,593.59 L2158.93,594.13 L2159.22,594.67 L2159.51,595.21 L2159.80,595.75 L2160.09,596.28 L2160.38,596.81 L2160.67,597.34 L2160.96,597.87 L2161.25,598.39 L2161.54,598.91 L2161.82,599.43 L2162.11,599.94 L2162.40,600.44 L2162.69,600.94 L2162.97,601.44 L2163.26,601.93 L2163.55,602.41 L2163.83,602.88 L2164.12,603.35 L2164.40,603.81 L2164.69,604.26 L2164.97,604.70 L2165.25,605.14 L2165.53,605.56 L2165.81,605.98 L2166.09,606.39 L2166.37,606.79 L2166.65,607.17 L2166.93,607.55 L2167.21,607.92 L2167.48,608.27 L2167.76,608.62 L2168.03,608.95 L2168.31,609.27 L2168.58,609.58 L2168.85,609.88 L2169.12,610.16 L2169.39,610.44 L2169.66,610.69 L2169.93,610.94 L2170.20,611.17 L2170.46,611.39 L2170.73,611.60 L2170.99,611.79 L2171.26,611.97 L2171.52,612.14 L2171.78,612.29 L2172.04,612.42 L2172.30,612.54 L2172.56,612.65 L2172.81,612.75 L2173.07,612.83 L2173.32,612.89 L2173.58,612.94 L2173.83,612.97 L2174.08,612.99 L2174.33,613.00 L2174.58,612.99 L2174.83,612.97 L2175.07,612.93 L2175.32,612.88 L2175.56,612.81 L2175.81,612.73 L2176.05,612.63 L2176.29,612.52 L2176.53,612.39 L2176.77,612.25 L2177.01,612.10 L2177.24,611.93 L2177.48,611.75 L2177.71,611.55 L2177.95,611.34 L2178.18,611.12 L2178.41,610.88 L2178.64,610.63 L2178.87,610.37 L2179.10,610.10 L2179.33,609.81 L2179.56,609.51 L2179.78,609.20 L2180.01,608.87 L2180.23,608.54 L2180.45,608.19 L2180.68,607.83 L2180.90,607.46 L2181.12,607.08 L2181.34,606.69 L2181.56,606.29 L2181.78,605.88 L2182.00,605.46 L2182.21,605.04 L2182.43,604.60 L2182.65,604.15 L2182.86,603.70 L2183.08,603.24 L2183.29,602.77 L2183.50,602.29 L2183.72,601.81 L2183.93,601.32 L2184.14,600.82 L2184.35,600.32 L2184.56,599.82 L2184.77,599.31 L2184.99,598.79 L2185.20,598.27 L2185.41,597.75 L2185.61,597.22 L2185.82,596.69 L2186.03,596.16 L2186.24,595.62 L2186.45,595.08 L2186.66,594.54 L2186.87,594.01 L2187.08,593.47 L2187.29,592.92 L2187.50,592.38 L2187.70,591.85 L2187.91,591.31 L2188.12,590.77 L2188.33,590.23 L2188.54,589.70 L2188.75,589.17 L2188.96,588.64 L2189.17,588.12 L2189.38,587.60 L2189.59,587.08 L2189.80,586.57 L2190.01,586.06 L2190.22,585.56 L2190.44,585.06 L2190.65,584.57 L2190.86,584.09 L2191.08,583.61 L2191.29,583.14 L2191.50,582.68 L2191.72,582.22 L2191.93,581.77 L2192.15,581.34 L2192.37,580.91 L2192.59,580.49 L2192.80,580.07 L2193.02,579.67 L2193.24,579.28 L2193.46,578.90 L2193.69,578.53 L2193.91,578.17 L2194.13,577.82 L2194.36,577.48 L2194.58,577.16 L2194.81,576.84 L2195.03,576.54 L2195.26,576.25 L2195.49,575.97 L2195.72,575.71 L2195.95,575.46 L2196.18,575.22 L2196.41,574.99 L2196.65,574.78 L2196.88,574.58 L2197.12,574.40 L2197.35,574.23 L2197.59,574.07 L2197.83,573.93 L2198.07,573.80 L2198.31,573.69 L2198.55,573.59 L2198.80,573.51 L2199.04,573.43 L2199.29,573.38 L2199.53,573.34 L2199.78,573.31 L2200.03,573.30 L2200.28,573.30 L2200.53,573.32 L2200.78,573.35 L2201.03,573.40 L2201.29,573.46 L2201.54,573.54 L2201.80,573.63 L2202.06,573.74 L2202.32,573.86 L2202.58,573.99 L2202.84,574.14 L2203.10,574.30 L2203.36,574.48 L2203.63,574.67 L2203.89,574.87 L2204.16,575.09 L2204.42,575.32 L2204.69,575.56 L2204.96,575.82 L2205.23,576.09 L2205.50,576.37 L2205.77,576.67 L2206.05,576.98 L2206.32,577.29 L2206.59,577.63 L2206.87,577.97 L2207.15,578.32 L2207.42,578.69 L2207.70,579.06 L2207.98,579.45 L2208.26,579.84 L2208.54,580.25 L2208.82,580.67 L2209.10,581.09 L2209.38,581.52 L2209.67,581.97 L2209.95,582.42 L2210.24,582.87 L2210.52,583.34 L2210.81,583.81 L2211.09,584.29 L2211.38,584.78 L2211.66,585.27 L2211.95,585.77 L2212.24,586.28 L2212.53,586.79 L2212.82,587.30 L2213.10,587.82 L2213.39,588.34 L2213.68,588.87 L2213.97,589.40 L2214.26,589.93 L2214.55,590.46 L2214.84,591.00 L2215.13,591.54 L2215.42,592.08 L2215.71,592.62 L2216.00,593.16 L2216.29,593.70 L2216.58,594.24 L2216.87,594.78 L2217.16,595.31 L2217.45,595.85 L2217.74,596.38 L2218.03,596.92 L2218.32,597.45 L2218.61,597.97 L2218.90,598.49 L2219.19,599.01 L2219.48,599.53 L2219.77,600.04 L2220.06,600.54 L2220.34,601.04 L2220.63,601.53 L2220.92,602.02 L2221.20,602.50 L2221.49,602.97 L2221.77,603.44 L2222.06,603.90 L2222.34,604.35 L2222.62,604.79 L2222.90,605.22 L2223.19,605.65 L2223.47,606.06 L2223.75,606.47 L2224.03,606.86 L2224.31,607.25 L2224.58,607.62 L2224.86,607.99 L2225.14,608.34 L2225.41,608.68 L2225.69,609.01 L2225.96,609.33 L2226.23,609.64 L2226.51,609.93 L2226.78,610.22 L2227.05,610.49 L2227.31,610.74 L2227.58,610.99 L2227.85,611.22 L2228.12,611.43 L2228.38,611.64 L2228.64,611.83 L2228.91,612.00 L2229.17,612.17 L2229.43,612.31 L2229.69,612.45 L2229.95,612.57 L2230.21,612.67 L2230.46,612.76 L2230.72,612.84 L2230.97,612.90 L2231.22,612.95 L2231.48,612.98 L2231.73,613.00 L2231.98,613.00 L2232.23,612.99 L2232.47,612.96 L2232.72,612.92 L2232.97,612.86 L2233.21,612.79 L2233.45,612.71 L2233.69,612.61 L2233.94,612.49 L2234.18,612.37 L2234.41,612.22 L2234.65,612.07 L2234.89,611.90 L2235.12,611.71 L2235.36,611.51 L2235.59,611.30 L2235.82,611.08 L2236.06,610.84 L2236.29,610.58 L2236.52,610.32 L2236.75,610.04 L2236.97,609.75 L2237.20,609.45 L2237.43,609.14 L2237.65,608.81 L2237.87,608.47 L2238.10,608.12 L2238.32,607.76 L2238.54,607.39 L2238.76,607.01 L2238.98,606.62 L2239.20,606.22 L2239.42,605.80 L2239.64,605.38 L2239.85,604.95 L2240.07,604.51 L2240.29,604.07 L2240.50,603.61 L2240.72,603.15 L2240.93,602.68 L2241.14,602.20 L2241.36,601.72 L2241.57,601.23 L2241.78,600.73 L2241.99,600.23 L2242.20,599.72 L2242.41,599.21 L2242.63,598.69 L2242.84,598.17 L2243.05,597.65 L2243.26,597.12 L2243.46,596.59 L2243.67,596.05 L2243.88,595.52 L2244.09,594.98 L2244.30,594.44 L2244.51,593.90 L2244.72,593.36 L2244.93,592.82 L2245.14,592.28 L2245.34,591.74 L2245.55,591.20 L2245.76,590.67 L2245.97,590.13 L2246.18,589.60 L2246.39,589.07 L2246.60,588.54 L2246.81,588.02 L2247.02,587.50 L2247.23,586.98 L2247.44,586.47 L2247.65,585.96 L2247.86,585.46 L2248.08,584.97 L2248.29,584.48 L2248.50,584.00 L2248.72,583.52 L2248.93,583.05 L2249.14,582.59 L2249.36,582.14 L2249.58,581.69 L2249.79,581.25 L2250.01,580.82 L2250.23,580.41 L2250.45,580.00 L2250.67,579.60 L2250.89,579.21 L2251.11,578.83 L2251.33,578.46 L2251.55,578.10 L2251.77,577.75 L2252.00,577.42 L2252.22,577.10 L2252.45,576.78 L2252.68,576.48 L2252.90,576.20 L2253.13,575.92 L2253.36,575.66 L2253.59,575.41"/><use href="#p46986" transform="translate(-3.25,0)"/><use href="#p46986" transform="translate(-1.95,0)"/><use href="#p46986" transform="translate(-0.65,0)"/><use href="#p46986" transform="translate(0.65,0)"/><use href="#p46986" transform="translate(1.95,0)"/><use href="#p46986" transform="translate(3.25,0)"/></g>
<g fill="none" stroke="#e678b0" stroke-width="3.0" stroke-linejoin="round"><path id="p45996" d="M2224.30,944.87 L2224.56,944.95 L2224.82,944.99 L2225.08,944.99 L2225.34,944.95 L2225.60,944.87 L2225.86,944.75 L2226.11,944.60 L2226.37,944.41 L2226.63,944.19 L2226.89,943.94 L2227.15,943.67 L2227.41,943.38 L2227.67,943.07 L2227.93,942.74 L2228.19,942.40 L2228.45,942.05 L2228.71,941.68 L2228.97,941.31 L2229.23,940.93 L2229.48,940.54 L2229.74,940.14 L2230.00,939.74 L2230.26,939.33 L2230.52,938.92 L2230.78,938.51 L2231.04,938.09 L2231.30,937.66 L2231.56,937.24 L2231.82,936.81 L2232.08,936.38 L2232.34,935.95 L2232.60,935.51 L2232.85,935.08 L2233.11,934.64 L2233.37,934.20 L2233.63,933.76 L2233.89,933.32 L2234.15,932.87 L2234.41,932.43 L2234.67,931.98 L2234.93,931.54 L2235.19,931.09 L2235.45,930.64 L2235.71,930.19 L2235.97,929.75 L2236.22,929.30 L2236.48,928.85 L2236.74,928.40 L2237.00,927.95 L2237.26,927.50 L2237.52,927.04 L2237.78,926.59 L2238.04,926.14 L2238.30,925.69 L2238.56,925.24 L2238.82,924.79 L2239.08,924.33 L2239.34,923.88 L2239.60,923.43 L2239.85,922.98 L2240.11,922.53 L2240.37,922.08 L2240.63,921.62 L2240.89,921.17 L2241.15,920.72 L2241.41,920.27 L2241.67,919.82 L2241.93,919.37 L2242.19,918.92 L2242.45,918.47 L2242.71,918.02 L2242.97,917.58 L2243.22,917.13 L2243.48,916.68 L2243.74,916.24 L2244.00,915.79 L2244.26,915.35 L2244.52,914.91 L2244.78,914.47 L2245.04,914.03 L2245.30,913.59 L2245.56,913.15 L2245.82,912.71 L2246.08,912.28 L2246.34,911.85 L2246.59,911.42 L2246.85,910.99 L2247.11,910.57 L2247.37,910.15 L2247.63,909.73 L2247.89,909.32 L2248.15,908.91 L2248.41,908.51 L2248.67,908.11 L2248.93,907.72 L2249.19,907.33 L2249.45,906.96 L2249.71,906.59 L2249.97,906.23 L2250.22,905.88 L2250.48,905.55 L2250.74,905.24 L2251.00,904.94 L2251.26,904.66 L2251.52,904.40 L2251.78,904.17 L2252.04,903.97 L2252.30,903.80 L2252.56,903.67 L2252.82,903.57 L2253.08,903.52 L2253.34,903.50 L2253.59,903.53 L2253.85,903.59 L2254.11,903.70 L2254.37,903.84 L2254.63,904.02 L2254.89,904.23 L2255.15,904.47 L2255.41,904.73 L2255.67,905.02 L2255.93,905.32 L2256.19,905.64 L2256.45,905.98 L2256.71,906.33 L2256.96,906.69 L2257.22,907.06 L2257.48,907.44 L2257.74,907.82 L2258.00,908.22 L2258.26,908.62 L2258.52,909.02 L2258.78,909.43 L2259.04,909.85 L2259.30,910.26 L2259.56,910.69 L2259.82,911.11 L2260.08,911.54 L2260.33,911.97 L2260.59,912.40 L2260.85,912.83 L2261.11,913.27 L2261.37,913.71 L2261.63,914.15 L2261.89,914.59 L2262.15,915.03 L2262.41,915.47 L2262.67,915.91 L2262.93,916.36 L2263.19,916.80 L2263.45,917.25 L2263.71,917.70 L2263.96,918.15 L2264.22,918.60 L2264.48,919.04 L2264.74,919.49 L2265.00,919.94 L2265.26,920.39 L2265.52,920.84 L2265.78,921.30 L2266.04,921.75 L2266.30,922.20 L2266.56,922.65 L2266.82,923.10 L2267.08,923.55 L2267.33,924.01 L2267.59,924.46 L2267.85,924.91 L2268.11,925.36 L2268.37,925.81 L2268.63,926.26 L2268.89,926.72 L2269.15,927.17 L2269.41,927.62 L2269.67,928.07 L2269.93,928.52 L2270.19,928.97 L2270.45,929.42 L2270.70,929.87 L2270.96,930.32 L2271.22,930.76 L2271.48,931.21 L2271.74,931.66 L2272.00,932.10 L2272.26,932.55 L2272.52,932.99 L2272.78,933.44 L2273.04,933.88 L2273.30,934.32 L2273.56,934.76 L2273.82,935.19 L2274.07,935.63 L2274.33,936.06 L2274.59,936.50 L2274.85,936.93 L2275.11,937.35 L2275.37,937.78 L2275.63,938.20 L2275.89,938.62 L2276.15,939.03 L2276.41,939.44 L2276.67,939.85 L2276.93,940.25 L2277.19,940.64 L2277.45,941.03 L2277.70,941.41 L2277.96,941.78 L2278.22,942.14 L2278.48,942.49 L2278.74,942.83 L2279.00,943.15 L2279.26,943.46 L2279.52,943.75 L2279.78,944.01 L2280.04,944.25 L2280.30,944.46 L2280.56,944.64 L2280.82,944.79 L2281.07,944.90 L2281.33,944.97 L2281.59,945.00 L2281.85,944.99 L2282.11,944.93 L2282.37,944.84 L2282.63,944.71 L2282.89,944.54 L2283.15,944.35 L2283.41,944.12 L2283.67,943.86 L2283.93,943.59 L2284.19,943.29 L2284.44,942.97 L2284.70,942.64 L2284.96,942.30 L2285.22,941.94 L2285.48,941.58 L2285.74,941.20 L2286.00,940.82 L2286.26,940.42 L2286.52,940.03 L2286.78,939.62 L2287.04,939.21 L2287.30,938.80 L2287.56,938.38 L2287.82,937.96 L2288.07,937.54 L2288.33,937.11 L2288.59,936.69 L2288.85,936.25 L2289.11,935.82 L2289.37,935.39 L2289.63,934.95 L2289.89,934.51 L2290.15,934.07 L2290.41,933.63 L2290.67,933.19 L2290.93,932.74 L2291.19,932.30 L2291.44,931.85 L2291.70,931.41 L2291.96,930.96 L2292.22,930.51 L2292.48,930.06 L2292.74,929.62 L2293.00,929.17 L2293.26,928.72 L2293.52,928.27 L2293.78,927.82 L2294.04,927.36 L2294.30,926.91 L2294.56,926.46 L2294.81,926.01 L2295.07,925.56 L2295.33,925.11 L2295.59,924.66 L2295.85,924.20 L2296.11,923.75 L2296.37,923.30 L2296.63,922.85 L2296.89,922.40 L2297.15,921.94 L2297.41,921.49 L2297.67,921.04 L2297.93,920.59 L2298.18,920.14 L2298.44,919.69 L2298.70,919.24 L2298.96,918.79 L2299.22,918.34 L2299.48,917.90 L2299.74,917.45 L2300.00,917.00 L2300.26,916.55 L2300.52,916.11 L2300.78,915.67 L2301.04,915.22 L2301.30,914.78 L2301.56,914.34 L2301.81,913.90 L2302.07,913.46 L2302.33,913.02 L2302.59,912.59 L2302.85,912.16 L2303.11,911.73 L2303.37,911.30 L2303.63,910.87 L2303.89,910.45 L2304.15,910.03 L2304.41,909.61 L2304.67,909.20 L2304.93,908.79 L2305.18,908.39 L2305.44,908.00 L2305.70,907.61 L2305.96,907.22 L2306.22,906.85 L2306.48,906.48 L2306.74,906.13 L2307.00,905.79 L2307.26,905.46 L2307.52,905.15 L2307.78,904.85 L2308.04,904.58 L2308.30,904.33 L2308.55,904.11 L2308.81,903.92 L2309.07,903.76 L2309.33,903.64 L2309.59,903.55 L2309.85,903.51 L2310.11,903.50 L2310.37,903.54 L2310.63,903.62 L2310.89,903.74 L2311.15,903.89 L2311.41,904.08 L2311.67,904.30 L2311.93,904.54 L2312.18,904.81 L2312.44,905.10 L2312.70,905.41 L2312.96,905.74 L2313.22,906.08 L2313.48,906.43 L2313.74,906.79 L2314.00,907.17 L2314.26,907.55 L2314.52,907.94 L2314.78,908.33 L2315.04,908.73 L2315.30,909.14 L2315.55,909.55 L2315.81,909.97 L2316.07,910.39 L2316.33,910.81 L2316.59,911.23 L2316.85,911.66 L2317.11,912.09 L2317.37,912.52 L2317.63,912.96 L2317.89,913.40 L2318.15,913.83 L2318.41,914.27 L2318.67,914.71 L2318.92,915.16 L2319.18,915.60 L2319.44,916.04 L2319.70,916.49 L2319.96,916.93 L2320.22,917.38 L2320.48,917.83 L2320.74,918.28 L2321.00,918.73 L2321.26,919.17 L2321.52,919.62 L2321.78,920.07 L2322.04,920.52 L2322.29,920.98 L2322.55,921.43 L2322.81,921.88 L2323.07,922.33 L2323.33,922.78 L2323.59,923.23 L2323.85,923.68 L2324.11,924.14 L2324.37,924.59 L2324.63,925.04 L2324.89,925.49 L2325.15,925.94 L2325.41,926.39 L2325.67,926.85 L2325.92,927.30 L2326.18,927.75 L2326.44,928.20 L2326.70,928.65 L2326.96,929.10 L2327.22,929.55 L2327.48,930.00 L2327.74,930.45 L2328.00,930.89 L2328.26,931.34 L2328.52,931.79 L2328.78,932.23 L2329.04,932.68 L2329.29,933.12 L2329.55,933.56 L2329.81,934.01 L2330.07,934.45 L2330.33,934.88 L2330.59,935.32 L2330.85,935.76 L2331.11,936.19 L2331.37,936.62 L2331.63,937.05 L2331.89,937.48 L2332.15,937.90 L2332.41,938.32 L2332.66,938.74 L2332.92,939.15 L2333.18,939.56 L2333.44,939.97 L2333.70,940.36 L2333.96,940.76 L2334.22,941.14 L2334.48,941.52 L2334.74,941.89 L2335.00,942.25 L2335.26,942.59 L2335.52,942.93 L2335.78,943.24 L2336.03,943.54 L2336.29,943.82 L2336.55,944.08 L2336.81,944.31 L2337.07,944.52 L2337.33,944.69 L2337.59,944.82 L2337.85,944.92 L2338.11,944.98 L2338.37,945.00 L2338.63,944.98 L2338.89,944.91 L2339.15,944.81 L2339.41,944.67 L2339.66,944.49 L2339.92,944.28 L2340.18,944.05 L2340.44,943.79 L2340.70,943.50 L2340.96,943.20 L2341.22,942.88 L2341.48,942.55 L2341.74,942.20 L2342.00,941.84 L2342.26,941.47 L2342.52,941.09 L2342.78,940.70 L2343.03,940.31 L2343.29,939.91 L2343.55,939.50 L2343.81,939.10 L2344.07,938.68 L2344.33,938.26 L2344.59,937.84 L2344.85,937.42 L2345.11,936.99 L2345.37,936.56 L2345.63,936.13 L2345.89,935.70 L2346.15,935.26 L2346.40,934.82 L2346.66,934.38 L2346.92,933.94 L2347.18,933.50 L2347.44,933.06 L2347.70,932.61 L2347.96,932.17 L2348.22,931.72 L2348.48,931.28 L2348.74,930.83 L2349.00,930.38 L2349.26,929.93 L2349.52,929.49 L2349.78,929.04 L2350.03,928.59 L2350.29,928.14 L2350.55,927.68 L2350.81,927.23 L2351.07,926.78 L2351.33,926.33 L2351.59,925.88 L2351.85,925.43 L2352.11,924.98 L2352.37,924.52 L2352.63,924.07 L2352.89,923.62 L2353.15,923.17 L2353.40,922.72 L2353.66,922.27 L2353.92,921.81 L2354.18,921.36 L2354.44,920.91 L2354.70,920.46 L2354.96,920.01 L2355.22,919.56 L2355.48,919.11 L2355.74,918.66 L2356.00,918.21 L2356.26,917.77 L2356.52,917.32 L2356.77,916.87 L2357.03,916.43 L2357.29,915.98 L2357.55,915.54 L2357.81,915.09 L2358.07,914.65 L2358.33,914.21 L2358.59,913.77 L2358.85,913.33 L2359.11,912.90 L2359.37,912.46 L2359.63,912.03 L2359.89,911.60 L2360.14,911.17 L2360.40,910.75 L2360.66,910.33 L2360.92,909.91 L2361.18,909.49 L2361.44,909.08 L2361.70,908.68"/><use href="#p45996" transform="translate(-3.75,0)"/><use href="#p45996" transform="translate(-2.50,0)"/><use href="#p45996" transform="translate(-1.25,0)"/><use href="#p45996" transform="translate(0.00,0)"/><use href="#p45996" transform="translate(1.25,0)"/><use href="#p45996" transform="translate(2.50,0)"/><use href="#p45996" transform="translate(3.75,0)"/></g>
<g fill="none" stroke="#7064b0" stroke-width="3.0" stroke-linejoin="round"><path id="p65197" d="M2238.49,908.35 L2238.74,908.75 L2239.00,909.15 L2239.26,909.56 L2239.52,909.97 L2239.77,910.39 L2240.03,910.81 L2240.29,911.23 L2240.54,911.65 L2240.80,912.08 L2241.06,912.51 L2241.32,912.94 L2241.57,913.37 L2241.83,913.81 L2242.09,914.24 L2242.35,914.68 L2242.60,915.12 L2242.86,915.56 L2243.12,916.00 L2243.37,916.44 L2243.63,916.88 L2243.89,917.33 L2244.15,917.77 L2244.40,918.21 L2244.66,918.66 L2244.92,919.11 L2245.18,919.55 L2245.43,920.00 L2245.69,920.44 L2245.95,920.89 L2246.20,921.34 L2246.46,921.79 L2246.72,922.24 L2246.98,922.68 L2247.23,923.13 L2247.49,923.58 L2247.75,924.03 L2248.00,924.48 L2248.26,924.92 L2248.52,925.37 L2248.78,925.82 L2249.03,926.27 L2249.29,926.72 L2249.55,927.17 L2249.81,927.61 L2250.06,928.06 L2250.32,928.51 L2250.58,928.95 L2250.83,929.40 L2251.09,929.85 L2251.35,930.29 L2251.61,930.73 L2251.86,931.18 L2252.12,931.62 L2252.38,932.06 L2252.64,932.51 L2252.89,932.95 L2253.15,933.39 L2253.41,933.82 L2253.66,934.26 L2253.92,934.70 L2254.18,935.13 L2254.44,935.57 L2254.69,936.00 L2254.95,936.43 L2255.21,936.85 L2255.47,937.28 L2255.72,937.70 L2255.98,938.12 L2256.24,938.53 L2256.49,938.95 L2256.75,939.35 L2257.01,939.76 L2257.27,940.16 L2257.52,940.55 L2257.78,940.94 L2258.04,941.31 L2258.29,941.69 L2258.55,942.05 L2258.81,942.40 L2259.07,942.74 L2259.32,943.06 L2259.58,943.37 L2259.84,943.66 L2260.10,943.93 L2260.35,944.17 L2260.61,944.39 L2260.87,944.58 L2261.12,944.74 L2261.38,944.86 L2261.64,944.95 L2261.90,944.99 L2262.15,945.00 L2262.41,944.96 L2262.67,944.88 L2262.93,944.77 L2263.18,944.62 L2263.44,944.43 L2263.70,944.22 L2263.95,943.98 L2264.21,943.71 L2264.47,943.43 L2264.73,943.12 L2264.98,942.80 L2265.24,942.46 L2265.50,942.12 L2265.75,941.76 L2266.01,941.39 L2266.27,941.01 L2266.53,940.63 L2266.78,940.23 L2267.04,939.84 L2267.30,939.43 L2267.56,939.03 L2267.81,938.61 L2268.07,938.20 L2268.33,937.78 L2268.58,937.36 L2268.84,936.94 L2269.10,936.51 L2269.36,936.08 L2269.61,935.65 L2269.87,935.22 L2270.13,934.78 L2270.39,934.35 L2270.64,933.91 L2270.90,933.47 L2271.16,933.03 L2271.41,932.59 L2271.67,932.15 L2271.93,931.71 L2272.19,931.27 L2272.44,930.82 L2272.70,930.38 L2272.96,929.93 L2273.22,929.49 L2273.47,929.04 L2273.73,928.59 L2273.99,928.15 L2274.24,927.70 L2274.50,927.25 L2274.76,926.80 L2275.02,926.36 L2275.27,925.91 L2275.53,925.46 L2275.79,925.01 L2276.04,924.56 L2276.30,924.12 L2276.56,923.67 L2276.82,923.22 L2277.07,922.77 L2277.33,922.32 L2277.59,921.87 L2277.85,921.43 L2278.10,920.98 L2278.36,920.53 L2278.62,920.08 L2278.87,919.64 L2279.13,919.19 L2279.39,918.75 L2279.65,918.30 L2279.90,917.86 L2280.16,917.41 L2280.42,916.97 L2280.68,916.53 L2280.93,916.08 L2281.19,915.64 L2281.45,915.20 L2281.70,914.77 L2281.96,914.33 L2282.22,913.89 L2282.48,913.46 L2282.73,913.02 L2282.99,912.59 L2283.25,912.16 L2283.51,911.73 L2283.76,911.31 L2284.02,910.89 L2284.28,910.47 L2284.53,910.05 L2284.79,909.64 L2285.05,909.23 L2285.31,908.82 L2285.56,908.42 L2285.82,908.03 L2286.08,907.64 L2286.33,907.26 L2286.59,906.89 L2286.85,906.53 L2287.11,906.17 L2287.36,905.83 L2287.62,905.51 L2287.88,905.19 L2288.14,904.90 L2288.39,904.63 L2288.65,904.37 L2288.91,904.15 L2289.16,903.95 L2289.42,903.79 L2289.68,903.66 L2289.94,903.57 L2290.19,903.51 L2290.45,903.50 L2290.71,903.53 L2290.97,903.60 L2291.22,903.71 L2291.48,903.85 L2291.74,904.03 L2291.99,904.23 L2292.25,904.47 L2292.51,904.73 L2292.77,905.01 L2293.02,905.31 L2293.28,905.63 L2293.54,905.97 L2293.79,906.31 L2294.05,906.67 L2294.31,907.04 L2294.57,907.41 L2294.82,907.80 L2295.08,908.19 L2295.34,908.58 L2295.60,908.98 L2295.85,909.39 L2296.11,909.80 L2296.37,910.21 L2296.62,910.63 L2296.88,911.05 L2297.14,911.48 L2297.40,911.90 L2297.65,912.33 L2297.91,912.76 L2298.17,913.19 L2298.43,913.63 L2298.68,914.06 L2298.94,914.50 L2299.20,914.94 L2299.45,915.38 L2299.71,915.82 L2299.97,916.26 L2300.23,916.70 L2300.48,917.14 L2300.74,917.59 L2301.00,918.03 L2301.26,918.48 L2301.51,918.92 L2301.77,919.37 L2302.03,919.81 L2302.28,920.26 L2302.54,920.71 L2302.80,921.16 L2303.06,921.60 L2303.31,922.05 L2303.57,922.50 L2303.83,922.95 L2304.08,923.40 L2304.34,923.84 L2304.60,924.29 L2304.86,924.74 L2305.11,925.19 L2305.37,925.64 L2305.63,926.09 L2305.89,926.53 L2306.14,926.98 L2306.40,927.43 L2306.66,927.88 L2306.91,928.32 L2307.17,928.77 L2307.43,929.22 L2307.69,929.66 L2307.94,930.11 L2308.20,930.55 L2308.46,931.00 L2308.72,931.44 L2308.97,931.88 L2309.23,932.32 L2309.49,932.77 L2309.74,933.21 L2310.00,933.64 L2310.26,934.08 L2310.52,934.52 L2310.77,934.95 L2311.03,935.39 L2311.29,935.82 L2311.54,936.25 L2311.80,936.68 L2312.06,937.10 L2312.32,937.53 L2312.57,937.95 L2312.83,938.36 L2313.09,938.78 L2313.35,939.19 L2313.60,939.59 L2313.86,939.99 L2314.12,940.39 L2314.37,940.78 L2314.63,941.16 L2314.89,941.53 L2315.15,941.90 L2315.40,942.25 L2315.66,942.60 L2315.92,942.93 L2316.18,943.24 L2316.43,943.54 L2316.69,943.82 L2316.95,944.08 L2317.20,944.31 L2317.46,944.51 L2317.72,944.68 L2317.98,944.82 L2318.23,944.92 L2318.49,944.98 L2318.75,945.00 L2319.01,944.98 L2319.26,944.92 L2319.52,944.82 L2319.78,944.68 L2320.03,944.51 L2320.29,944.31 L2320.55,944.08 L2320.81,943.82 L2321.06,943.55 L2321.32,943.25 L2321.58,942.93 L2321.83,942.60 L2322.09,942.26 L2322.35,941.91 L2322.61,941.54 L2322.86,941.17 L2323.12,940.78 L2323.38,940.40 L2323.64,940.00 L2323.89,939.60 L2324.15,939.19 L2324.41,938.78 L2324.66,938.37 L2324.92,937.95 L2325.18,937.53 L2325.44,937.11 L2325.69,936.68 L2325.95,936.26 L2326.21,935.83 L2326.47,935.40 L2326.72,934.96 L2326.98,934.53 L2327.24,934.09 L2327.49,933.65 L2327.75,933.21 L2328.01,932.77 L2328.27,932.33 L2328.52,931.89 L2328.78,931.45 L2329.04,931.00 L2329.29,930.56 L2329.55,930.11 L2329.81,929.67 L2330.07,929.22 L2330.32,928.78 L2330.58,928.33 L2330.84,927.88 L2331.10,927.44 L2331.35,926.99 L2331.61,926.54 L2331.87,926.09 L2332.12,925.64 L2332.38,925.20 L2332.64,924.75 L2332.90,924.30 L2333.15,923.85 L2333.41,923.40 L2333.67,922.95 L2333.93,922.51 L2334.18,922.06 L2334.44,921.61 L2334.70,921.16 L2334.95,920.72 L2335.21,920.27 L2335.47,919.82 L2335.73,919.38 L2335.98,918.93 L2336.24,918.48 L2336.50,918.04 L2336.76,917.59 L2337.01,917.15 L2337.27,916.71 L2337.53,916.27 L2337.78,915.82 L2338.04,915.38 L2338.30,914.95 L2338.56,914.51 L2338.81,914.07 L2339.07,913.63 L2339.33,913.20 L2339.58,912.77 L2339.84,912.34 L2340.10,911.91 L2340.36,911.48 L2340.61,911.06 L2340.87,910.64 L2341.13,910.22 L2341.39,909.81 L2341.64,909.40 L2341.90,908.99 L2342.16,908.59 L2342.41,908.19 L2342.67,907.80 L2342.93,907.42 L2343.19,907.04 L2343.44,906.67 L2343.70,906.32 L2343.96,905.97 L2344.22,905.64 L2344.47,905.32 L2344.73,905.02 L2344.99,904.74 L2345.24,904.47 L2345.50,904.24 L2345.76,904.03 L2346.02,903.85 L2346.27,903.71 L2346.53,903.60 L2346.79,903.53 L2347.05,903.50 L2347.30,903.51 L2347.56,903.56 L2347.82,903.66 L2348.07,903.79 L2348.33,903.95 L2348.59,904.15 L2348.85,904.37 L2349.10,904.62 L2349.36,904.89 L2349.62,905.19 L2349.87,905.50 L2350.13,905.83 L2350.39,906.17 L2350.65,906.52 L2350.90,906.88 L2351.16,907.26 L2351.42,907.64 L2351.68,908.02 L2351.93,908.42 L2352.19,908.82 L2352.45,909.22 L2352.70,909.63 L2352.96,910.04 L2353.22,910.46 L2353.48,910.88 L2353.73,911.30 L2353.99,911.73 L2354.25,912.16 L2354.51,912.58 L2354.76,913.02 L2355.02,913.45 L2355.28,913.88 L2355.53,914.32 L2355.79,914.76 L2356.05,915.20 L2356.31,915.64 L2356.56,916.08 L2356.82,916.52 L2357.08,916.96 L2357.33,917.41 L2357.59,917.85 L2357.85,918.29 L2358.11,918.74 L2358.36,919.18 L2358.62,919.63 L2358.88,920.08 L2359.14,920.52 L2359.39,920.97 L2359.65,921.42 L2359.91,921.87 L2360.16,922.32 L2360.42,922.76 L2360.68,923.21 L2360.94,923.66 L2361.19,924.11 L2361.45,924.56 L2361.71,925.00 L2361.97,925.45 L2362.22,925.90 L2362.48,926.35 L2362.74,926.80 L2362.99,927.25 L2363.25,927.69 L2363.51,928.14 L2363.77,928.59 L2364.02,929.03 L2364.28,929.48 L2364.54,929.92 L2364.80,930.37 L2365.05,930.81 L2365.31,931.26 L2365.57,931.70 L2365.82,932.14 L2366.08,932.58 L2366.34,933.03 L2366.60,933.46 L2366.85,933.90 L2367.11,934.34 L2367.37,934.78 L2367.62,935.21 L2367.88,935.64 L2368.14,936.07 L2368.40,936.50 L2368.65,936.93 L2368.91,937.35 L2369.17,937.77 L2369.43,938.19 L2369.68,938.61 L2369.94,939.02 L2370.20,939.43 L2370.45,939.83 L2370.71,940.23 L2370.97,940.62 L2371.23,941.00 L2371.48,941.38 L2371.74,941.75 L2372.00,942.11 L2372.26,942.46 L2372.51,942.79 L2372.77,943.12 L2373.03,943.42 L2373.28,943.71 L2373.54,943.97 L2373.80,944.22 L2374.06,944.43 L2374.31,944.61"/><use href="#p65197" transform="translate(-3.75,0)"/><use href="#p65197" transform="translate(-2.50,0)"/><use href="#p65197" transform="translate(-1.25,0)"/><use href="#p65197" transform="translate(0.00,0)"/><use href="#p65197" transform="translate(1.25,0)"/><use href="#p65197" transform="translate(2.50,0)"/><use href="#p65197" transform="translate(3.75,0)"/></g>
<g fill="none" stroke="#e678b0" stroke-width="3.0" stroke-linejoin="round"><path id="p29232" d="M3020.29,736.97 L3020.54,737.00 L3020.80,736.99 L3021.06,736.94 L3021.32,736.85 L3021.58,736.72 L3021.84,736.56 L3022.10,736.36 L3022.36,736.14 L3022.62,735.89 L3022.88,735.62 L3023.14,735.33 L3023.40,735.03 L3023.66,734.70 L3023.92,734.37 L3024.17,734.02 L3024.43,733.66 L3024.69,733.30 L3024.95,732.92 L3025.21,732.54 L3025.47,732.15 L3025.73,731.76 L3025.99,731.36 L3026.25,730.96 L3026.51,730.56 L3026.77,730.15 L3027.03,729.73 L3027.29,729.32 L3027.55,728.90 L3027.81,728.48 L3028.06,728.06 L3028.32,727.63 L3028.58,727.21 L3028.84,726.78 L3029.10,726.35 L3029.36,725.92 L3029.62,725.49 L3029.88,725.06 L3030.14,724.63 L3030.40,724.19 L3030.66,723.76 L3030.92,723.32 L3031.18,722.89 L3031.44,722.45 L3031.69,722.01 L3031.95,721.57 L3032.21,721.14 L3032.47,720.70 L3032.73,720.26 L3032.99,719.82 L3033.25,719.38 L3033.51,718.94 L3033.77,718.50 L3034.03,718.06 L3034.29,717.62 L3034.55,717.18 L3034.81,716.74 L3035.07,716.30 L3035.32,715.86 L3035.58,715.42 L3035.84,714.98 L3036.10,714.54 L3036.36,714.10 L3036.62,713.66 L3036.88,713.22 L3037.14,712.78 L3037.40,712.34 L3037.66,711.90 L3037.92,711.47 L3038.18,711.03 L3038.44,710.59 L3038.70,710.16 L3038.96,709.72 L3039.21,709.29 L3039.47,708.85 L3039.73,708.42 L3039.99,707.99 L3040.25,707.56 L3040.51,707.13 L3040.77,706.70 L3041.03,706.27 L3041.29,705.84 L3041.55,705.42 L3041.81,705.00 L3042.07,704.58 L3042.33,704.16 L3042.59,703.75 L3042.84,703.33 L3043.10,702.92 L3043.36,702.52 L3043.62,702.12 L3043.88,701.72 L3044.14,701.33 L3044.40,700.94 L3044.66,700.56 L3044.92,700.18 L3045.18,699.82 L3045.44,699.46 L3045.70,699.11 L3045.96,698.78 L3046.22,698.46 L3046.47,698.15 L3046.73,697.86 L3046.99,697.59 L3047.25,697.35 L3047.51,697.13 L3047.77,696.94 L3048.03,696.78 L3048.29,696.65 L3048.55,696.56 L3048.81,696.51 L3049.07,696.50 L3049.33,696.53 L3049.59,696.60 L3049.85,696.71 L3050.10,696.85 L3050.36,697.03 L3050.62,697.24 L3050.88,697.47 L3051.14,697.73 L3051.40,698.01 L3051.66,698.31 L3051.92,698.62 L3052.18,698.95 L3052.44,699.29 L3052.70,699.65 L3052.96,700.01 L3053.22,700.38 L3053.48,700.76 L3053.74,701.14 L3053.99,701.53 L3054.25,701.93 L3054.51,702.33 L3054.77,702.73 L3055.03,703.14 L3055.29,703.55 L3055.55,703.96 L3055.81,704.38 L3056.07,704.80 L3056.33,705.22 L3056.59,705.64 L3056.85,706.07 L3057.11,706.49 L3057.37,706.92 L3057.62,707.35 L3057.88,707.78 L3058.14,708.21 L3058.40,708.65 L3058.66,709.08 L3058.92,709.51 L3059.18,709.95 L3059.44,710.38 L3059.70,710.82 L3059.96,711.26 L3060.22,711.70 L3060.48,712.13 L3060.74,712.57 L3061.00,713.01 L3061.25,713.45 L3061.51,713.89 L3061.77,714.33 L3062.03,714.77 L3062.29,715.21 L3062.55,715.65 L3062.81,716.09 L3063.07,716.53 L3063.33,716.97 L3063.59,717.41 L3063.85,717.85 L3064.11,718.29 L3064.37,718.73 L3064.63,719.17 L3064.89,719.61 L3065.14,720.05 L3065.40,720.49 L3065.66,720.93 L3065.92,721.37 L3066.18,721.80 L3066.44,722.24 L3066.70,722.68 L3066.96,723.11 L3067.22,723.55 L3067.48,723.99 L3067.74,724.42 L3068.00,724.85 L3068.26,725.29 L3068.52,725.72 L3068.77,726.15 L3069.03,726.58 L3069.29,727.01 L3069.55,727.43 L3069.81,727.86 L3070.07,728.28 L3070.33,728.70 L3070.59,729.12 L3070.85,729.54 L3071.11,729.95 L3071.37,730.36 L3071.63,730.77 L3071.89,731.17 L3072.15,731.57 L3072.40,731.97 L3072.66,732.36 L3072.92,732.74 L3073.18,733.12 L3073.44,733.49 L3073.70,733.85 L3073.96,734.20 L3074.22,734.55 L3074.48,734.87 L3074.74,735.19 L3075.00,735.49 L3075.26,735.77 L3075.52,736.03 L3075.78,736.26 L3076.03,736.47 L3076.29,736.64 L3076.55,736.79 L3076.81,736.90 L3077.07,736.97 L3077.33,737.00 L3077.59,736.99 L3077.85,736.94 L3078.11,736.85 L3078.37,736.73 L3078.63,736.56 L3078.89,736.37 L3079.15,736.15 L3079.41,735.91 L3079.67,735.64 L3079.92,735.35 L3080.18,735.04 L3080.44,734.72 L3080.70,734.39 L3080.96,734.04 L3081.22,733.68 L3081.48,733.32 L3081.74,732.94 L3082.00,732.56 L3082.26,732.17 L3082.52,731.78 L3082.78,731.38 L3083.04,730.98 L3083.30,730.58 L3083.55,730.17 L3083.81,729.76 L3084.07,729.34 L3084.33,728.92 L3084.59,728.50 L3084.85,728.08 L3085.11,727.66 L3085.37,727.23 L3085.63,726.80 L3085.89,726.38 L3086.15,725.95 L3086.41,725.51 L3086.67,725.08 L3086.93,724.65 L3087.18,724.22 L3087.44,723.78 L3087.70,723.35 L3087.96,722.91 L3088.22,722.47 L3088.48,722.03 L3088.74,721.60 L3089.00,721.16 L3089.26,720.72 L3089.52,720.28 L3089.78,719.84 L3090.04,719.40 L3090.30,718.96 L3090.56,718.52 L3090.82,718.08 L3091.07,717.64 L3091.33,717.20 L3091.59,716.76 L3091.85,716.32 L3092.11,715.88 L3092.37,715.44 L3092.63,715.00 L3092.89,714.56 L3093.15,714.12 L3093.41,713.68 L3093.67,713.24 L3093.93,712.80 L3094.19,712.36 L3094.45,711.93 L3094.70,711.49 L3094.96,711.05 L3095.22,710.61 L3095.48,710.18 L3095.74,709.74 L3096.00,709.31 L3096.26,708.87 L3096.52,708.44 L3096.78,708.01 L3097.04,707.58 L3097.30,707.15 L3097.56,706.72 L3097.82,706.29 L3098.08,705.87 L3098.33,705.44 L3098.59,705.02 L3098.85,704.60 L3099.11,704.18 L3099.37,703.77 L3099.63,703.35 L3099.89,702.95 L3100.15,702.54 L3100.41,702.14 L3100.67,701.74 L3100.93,701.35 L3101.19,700.96 L3101.45,700.58 L3101.71,700.20 L3101.97,699.84 L3102.22,699.48 L3102.48,699.13 L3102.74,698.80 L3103.00,698.47 L3103.26,698.17 L3103.52,697.88 L3103.78,697.61 L3104.04,697.36 L3104.30,697.14 L3104.56,696.94 L3104.82,696.78 L3105.08,696.66 L3105.34,696.56 L3105.60,696.51 L3105.85,696.50 L3106.11,696.53 L3106.37,696.60 L3106.63,696.70 L3106.89,696.85 L3107.15,697.02 L3107.41,697.23 L3107.67,697.46 L3107.93,697.72 L3108.19,698.00 L3108.45,698.29 L3108.71,698.61 L3108.97,698.94 L3109.23,699.28 L3109.48,699.63 L3109.74,699.99 L3110.00,700.36 L3110.26,700.74 L3110.52,701.12 L3110.78,701.51 L3111.04,701.91 L3111.30,702.31 L3111.56,702.71 L3111.82,703.12 L3112.08,703.53 L3112.34,703.94 L3112.60,704.36 L3112.86,704.78 L3113.11,705.20 L3113.37,705.62 L3113.63,706.05 L3113.89,706.47 L3114.15,706.90 L3114.41,707.33 L3114.67,707.76 L3114.93,708.19 L3115.19,708.62 L3115.45,709.06 L3115.71,709.49 L3115.97,709.93 L3116.23,710.36 L3116.49,710.80 L3116.75,711.24 L3117.00,711.67 L3117.26,712.11 L3117.52,712.55 L3117.78,712.99 L3118.04,713.43 L3118.30,713.87 L3118.56,714.31 L3118.82,714.75 L3119.08,715.19 L3119.34,715.63 L3119.60,716.07 L3119.86,716.51 L3120.12,716.95 L3120.38,717.39 L3120.63,717.83 L3120.89,718.27 L3121.15,718.71 L3121.41,719.15 L3121.67,719.59 L3121.93,720.03 L3122.19,720.47 L3122.45,720.90 L3122.71,721.34 L3122.97,721.78 L3123.23,722.22 L3123.49,722.66 L3123.75,723.09 L3124.01,723.53 L3124.26,723.96 L3124.52,724.40 L3124.78,724.83 L3125.04,725.26 L3125.30,725.70 L3125.56,726.13 L3125.82,726.56 L3126.08,726.98 L3126.34,727.41 L3126.60,727.84 L3126.86,728.26 L3127.12,728.68 L3127.38,729.10 L3127.64,729.52 L3127.90,729.93 L3128.15,730.34 L3128.41,730.75 L3128.67,731.15 L3128.93,731.55 L3129.19,731.95 L3129.45,732.34 L3129.71,732.72 L3129.97,733.10 L3130.23,733.47 L3130.49,733.83 L3130.75,734.19 L3131.01,734.53 L3131.27,734.86 L3131.53,735.17 L3131.78,735.47 L3132.04,735.75 L3132.30,736.01 L3132.56,736.25 L3132.82,736.46 L3133.08,736.64 L3133.34,736.78 L3133.60,736.89 L3133.86,736.97 L3134.12,737.00 L3134.38,736.99 L3134.64,736.94 L3134.90,736.86 L3135.16,736.73 L3135.41,736.57 L3135.67,736.38 L3135.93,736.16 L3136.19,735.92 L3136.45,735.65 L3136.71,735.36 L3136.97,735.06 L3137.23,734.74 L3137.49,734.40 L3137.75,734.06 L3138.01,733.70 L3138.27,733.34 L3138.53,732.96 L3138.79,732.58 L3139.04,732.19 L3139.30,731.80 L3139.56,731.40 L3139.82,731.00 L3140.08,730.60 L3140.34,730.19 L3140.60,729.78 L3140.86,729.36 L3141.12,728.94 L3141.38,728.52 L3141.64,728.10 L3141.90,727.68 L3142.16,727.25 L3142.42,726.83 L3142.68,726.40 L3142.93,725.97 L3143.19,725.54 L3143.45,725.10 L3143.71,724.67 L3143.97,724.24 L3144.23,723.80 L3144.49,723.37 L3144.75,722.93 L3145.01,722.49 L3145.27,722.06 L3145.53,721.62 L3145.79,721.18 L3146.05,720.74 L3146.31,720.30 L3146.56,719.86 L3146.82,719.42 L3147.08,718.99 L3147.34,718.55 L3147.60,718.11 L3147.86,717.67 L3148.12,717.22 L3148.38,716.78 L3148.64,716.34 L3148.90,715.90 L3149.16,715.46 L3149.42,715.02 L3149.68,714.58 L3149.94,714.14 L3150.19,713.70 L3150.45,713.27 L3150.71,712.83 L3150.97,712.39 L3151.23,711.95 L3151.49,711.51 L3151.75,711.07 L3152.01,710.64 L3152.27,710.20 L3152.53,709.77 L3152.79,709.33 L3153.05,708.90 L3153.31,708.46 L3153.57,708.03 L3153.83,707.60 L3154.08,707.17 L3154.34,706.74 L3154.60,706.31 L3154.86,705.89 L3155.12,705.46 L3155.38,705.04 L3155.64,704.62 L3155.90,704.20 L3156.16,703.79 L3156.42,703.38 L3156.68,702.97 L3156.94,702.56 L3157.20,702.16 L3157.46,701.76 L3157.71,701.37"/><use href="#p29232" transform="translate(-3.75,0)"/><use href="#p29232" transform="translate(-2.50,0)"/><use href="#p29232" transform="translate(-1.25,0)"/><use href="#p29232" transform="translate(0.00,0)"/><use href="#p29232" transform="translate(1.25,0)"/><use href="#p29232" transform="translate(2.50,0)"/><use href="#p29232" transform="translate(3.75,0)"/></g>
<g fill="none" stroke="#7064b0" stroke-width="3.0" stroke-linejoin="round"><path id="p27437" d="M3032.45,701.93 L3032.71,702.32 L3032.97,702.72 L3033.23,703.13 L3033.48,703.53 L3033.74,703.94 L3034.00,704.36 L3034.25,704.77 L3034.51,705.19 L3034.77,705.61 L3035.02,706.03 L3035.28,706.45 L3035.54,706.87 L3035.79,707.30 L3036.05,707.72 L3036.31,708.15 L3036.56,708.58 L3036.82,709.01 L3037.08,709.44 L3037.33,709.87 L3037.59,710.30 L3037.85,710.73 L3038.10,711.17 L3038.36,711.60 L3038.62,712.03 L3038.87,712.47 L3039.13,712.90 L3039.39,713.34 L3039.65,713.77 L3039.90,714.21 L3040.16,714.64 L3040.42,715.08 L3040.67,715.51 L3040.93,715.95 L3041.19,716.39 L3041.44,716.82 L3041.70,717.26 L3041.96,717.69 L3042.21,718.13 L3042.47,718.57 L3042.73,719.00 L3042.98,719.44 L3043.24,719.87 L3043.50,720.31 L3043.75,720.74 L3044.01,721.18 L3044.27,721.61 L3044.52,722.04 L3044.78,722.48 L3045.04,722.91 L3045.29,723.34 L3045.55,723.77 L3045.81,724.20 L3046.07,724.63 L3046.32,725.06 L3046.58,725.49 L3046.84,725.92 L3047.09,726.34 L3047.35,726.77 L3047.61,727.19 L3047.86,727.61 L3048.12,728.03 L3048.38,728.45 L3048.63,728.87 L3048.89,729.28 L3049.15,729.69 L3049.40,730.10 L3049.66,730.51 L3049.92,730.91 L3050.17,731.31 L3050.43,731.70 L3050.69,732.09 L3050.94,732.48 L3051.20,732.86 L3051.46,733.23 L3051.71,733.59 L3051.97,733.95 L3052.23,734.29 L3052.49,734.63 L3052.74,734.95 L3053.00,735.26 L3053.26,735.55 L3053.51,735.82 L3053.77,736.08 L3054.03,736.30 L3054.28,736.50 L3054.54,736.67 L3054.80,736.81 L3055.05,736.91 L3055.31,736.97 L3055.57,737.00 L3055.82,736.98 L3056.08,736.93 L3056.34,736.84 L3056.59,736.71 L3056.85,736.55 L3057.11,736.36 L3057.36,736.14 L3057.62,735.89 L3057.88,735.62 L3058.13,735.34 L3058.39,735.03 L3058.65,734.71 L3058.91,734.38 L3059.16,734.04 L3059.42,733.69 L3059.68,733.32 L3059.93,732.95 L3060.19,732.58 L3060.45,732.19 L3060.70,731.80 L3060.96,731.41 L3061.22,731.01 L3061.47,730.61 L3061.73,730.21 L3061.99,729.80 L3062.24,729.39 L3062.50,728.97 L3062.76,728.56 L3063.01,728.14 L3063.27,727.72 L3063.53,727.30 L3063.78,726.88 L3064.04,726.45 L3064.30,726.03 L3064.55,725.60 L3064.81,725.17 L3065.07,724.74 L3065.33,724.32 L3065.58,723.88 L3065.84,723.45 L3066.10,723.02 L3066.35,722.59 L3066.61,722.16 L3066.87,721.72 L3067.12,721.29 L3067.38,720.86 L3067.64,720.42 L3067.89,719.99 L3068.15,719.55 L3068.41,719.11 L3068.66,718.68 L3068.92,718.24 L3069.18,717.81 L3069.43,717.37 L3069.69,716.94 L3069.95,716.50 L3070.20,716.06 L3070.46,715.63 L3070.72,715.19 L3070.97,714.76 L3071.23,714.32 L3071.49,713.88 L3071.75,713.45 L3072.00,713.01 L3072.26,712.58 L3072.52,712.15 L3072.77,711.71 L3073.03,711.28 L3073.29,710.85 L3073.54,710.41 L3073.80,709.98 L3074.06,709.55 L3074.31,709.12 L3074.57,708.69 L3074.83,708.26 L3075.08,707.83 L3075.34,707.41 L3075.60,706.98 L3075.85,706.56 L3076.11,706.14 L3076.37,705.72 L3076.62,705.30 L3076.88,704.88 L3077.14,704.46 L3077.39,704.05 L3077.65,703.64 L3077.91,703.23 L3078.17,702.83 L3078.42,702.43 L3078.68,702.03 L3078.94,701.64 L3079.19,701.25 L3079.45,700.87 L3079.71,700.49 L3079.96,700.12 L3080.22,699.76 L3080.48,699.41 L3080.73,699.07 L3080.99,698.74 L3081.25,698.42 L3081.50,698.12 L3081.76,697.83 L3082.02,697.57 L3082.27,697.33 L3082.53,697.11 L3082.79,696.92 L3083.04,696.77 L3083.30,696.64 L3083.56,696.56 L3083.81,696.51 L3084.07,696.50 L3084.33,696.53 L3084.59,696.60 L3084.84,696.71 L3085.10,696.85 L3085.36,697.03 L3085.61,697.23 L3085.87,697.46 L3086.13,697.72 L3086.38,697.99 L3086.64,698.28 L3086.90,698.59 L3087.15,698.92 L3087.41,699.26 L3087.67,699.60 L3087.92,699.96 L3088.18,700.33 L3088.44,700.70 L3088.69,701.08 L3088.95,701.46 L3089.21,701.86 L3089.46,702.25 L3089.72,702.65 L3089.98,703.05 L3090.23,703.46 L3090.49,703.87 L3090.75,704.28 L3091.01,704.69 L3091.26,705.11 L3091.52,705.53 L3091.78,705.95 L3092.03,706.37 L3092.29,706.80 L3092.55,707.22 L3092.80,707.65 L3093.06,708.07 L3093.32,708.50 L3093.57,708.93 L3093.83,709.36 L3094.09,709.79 L3094.34,710.22 L3094.60,710.65 L3094.86,711.09 L3095.11,711.52 L3095.37,711.95 L3095.63,712.39 L3095.88,712.82 L3096.14,713.26 L3096.40,713.69 L3096.65,714.13 L3096.91,714.56 L3097.17,715.00 L3097.43,715.43 L3097.68,715.87 L3097.94,716.31 L3098.20,716.74 L3098.45,717.18 L3098.71,717.61 L3098.97,718.05 L3099.22,718.49 L3099.48,718.92 L3099.74,719.36 L3099.99,719.79 L3100.25,720.23 L3100.51,720.66 L3100.76,721.10 L3101.02,721.53 L3101.28,721.96 L3101.53,722.40 L3101.79,722.83 L3102.05,723.26 L3102.30,723.69 L3102.56,724.12 L3102.82,724.55 L3103.07,724.98 L3103.33,725.41 L3103.59,725.84 L3103.85,726.27 L3104.10,726.69 L3104.36,727.11 L3104.62,727.54 L3104.87,727.96 L3105.13,728.37 L3105.39,728.79 L3105.64,729.21 L3105.90,729.62 L3106.16,730.03 L3106.41,730.43 L3106.67,730.84 L3106.93,731.24 L3107.18,731.63 L3107.44,732.02 L3107.70,732.41 L3107.95,732.79 L3108.21,733.16 L3108.47,733.53 L3108.72,733.88 L3108.98,734.23 L3109.24,734.57 L3109.49,734.89 L3109.75,735.20 L3110.01,735.50 L3110.27,735.78 L3110.52,736.03 L3110.78,736.26 L3111.04,736.47 L3111.29,736.64 L3111.55,736.79 L3111.81,736.89 L3112.06,736.97 L3112.32,737.00 L3112.58,736.99 L3112.83,736.94 L3113.09,736.86 L3113.35,736.74 L3113.60,736.58 L3113.86,736.39 L3114.12,736.18 L3114.37,735.94 L3114.63,735.67 L3114.89,735.39 L3115.14,735.09 L3115.40,734.77 L3115.66,734.44 L3115.91,734.10 L3116.17,733.75 L3116.43,733.39 L3116.69,733.02 L3116.94,732.65 L3117.20,732.26 L3117.46,731.88 L3117.71,731.48 L3117.97,731.09 L3118.23,730.69 L3118.48,730.28 L3118.74,729.87 L3119.00,729.46 L3119.25,729.05 L3119.51,728.64 L3119.77,728.22 L3120.02,727.80 L3120.28,727.38 L3120.54,726.96 L3120.79,726.53 L3121.05,726.11 L3121.31,725.68 L3121.56,725.25 L3121.82,724.82 L3122.08,724.39 L3122.33,723.96 L3122.59,723.53 L3122.85,723.10 L3123.11,722.67 L3123.36,722.24 L3123.62,721.80 L3123.88,721.37 L3124.13,720.93 L3124.39,720.50 L3124.65,720.07 L3124.90,719.63 L3125.16,719.19 L3125.42,718.76 L3125.67,718.32 L3125.93,717.89 L3126.19,717.45 L3126.44,717.02 L3126.70,716.58 L3126.96,716.14 L3127.21,715.71 L3127.47,715.27 L3127.73,714.84 L3127.98,714.40 L3128.24,713.96 L3128.50,713.53 L3128.75,713.09 L3129.01,712.66 L3129.27,712.23 L3129.53,711.79 L3129.78,711.36 L3130.04,710.93 L3130.30,710.49 L3130.55,710.06 L3130.81,709.63 L3131.07,709.20 L3131.32,708.77 L3131.58,708.34 L3131.84,707.91 L3132.09,707.49 L3132.35,707.06 L3132.61,706.64 L3132.86,706.21 L3133.12,705.79 L3133.38,705.37 L3133.63,704.96 L3133.89,704.54 L3134.15,704.13 L3134.40,703.72 L3134.66,703.31 L3134.92,702.90 L3135.17,702.50 L3135.43,702.10 L3135.69,701.71 L3135.95,701.32 L3136.20,700.94 L3136.46,700.56 L3136.72,700.19 L3136.97,699.83 L3137.23,699.47 L3137.49,699.13 L3137.74,698.80 L3138.00,698.48 L3138.26,698.17 L3138.51,697.89 L3138.77,697.62 L3139.03,697.37 L3139.28,697.15 L3139.54,696.96 L3139.80,696.79 L3140.05,696.66 L3140.31,696.57 L3140.57,696.52 L3140.82,696.50 L3141.08,696.52 L3141.34,696.59 L3141.59,696.69 L3141.85,696.82 L3142.11,696.99 L3142.37,697.19 L3142.62,697.42 L3142.88,697.67 L3143.14,697.94 L3143.39,698.23 L3143.65,698.54 L3143.91,698.86 L3144.16,699.19 L3144.42,699.54 L3144.68,699.89 L3144.93,700.26 L3145.19,700.63 L3145.45,701.01 L3145.70,701.39 L3145.96,701.78 L3146.22,702.18 L3146.47,702.58 L3146.73,702.98 L3146.99,703.38 L3147.24,703.79 L3147.50,704.20 L3147.76,704.62 L3148.01,705.03 L3148.27,705.45 L3148.53,705.87 L3148.79,706.29 L3149.04,706.72 L3149.30,707.14 L3149.56,707.57 L3149.81,707.99 L3150.07,708.42 L3150.33,708.85 L3150.58,709.28 L3150.84,709.71 L3151.10,710.14 L3151.35,710.57 L3151.61,711.01 L3151.87,711.44 L3152.12,711.87 L3152.38,712.31 L3152.64,712.74 L3152.89,713.18 L3153.15,713.61 L3153.41,714.05 L3153.66,714.48 L3153.92,714.92 L3154.18,715.35 L3154.43,715.79 L3154.69,716.23 L3154.95,716.66 L3155.21,717.10 L3155.46,717.53 L3155.72,717.97 L3155.98,718.41 L3156.23,718.84 L3156.49,719.28 L3156.75,719.71 L3157.00,720.15 L3157.26,720.58 L3157.52,721.02 L3157.77,721.45 L3158.03,721.89 L3158.29,722.32 L3158.54,722.75 L3158.80,723.18 L3159.06,723.61 L3159.31,724.05 L3159.57,724.48 L3159.83,724.91 L3160.08,725.33 L3160.34,725.76 L3160.60,726.19 L3160.85,726.61 L3161.11,727.04 L3161.37,727.46 L3161.63,727.88 L3161.88,728.30 L3162.14,728.71 L3162.40,729.13 L3162.65,729.54 L3162.91,729.95 L3163.17,730.36 L3163.42,730.76 L3163.68,731.16 L3163.94,731.56 L3164.19,731.95 L3164.45,732.34 L3164.71,732.72 L3164.96,733.09 L3165.22,733.46 L3165.48,733.82 L3165.73,734.17 L3165.99,734.51 L3166.25,734.84 L3166.50,735.15 L3166.76,735.45 L3167.02,735.73 L3167.27,735.99 L3167.53,736.22 L3167.79,736.43 L3168.05,736.61"/><use href="#p27437" transform="translate(-3.75,0)"/><use href="#p27437" transform="translate(-2.50,0)"/><use href="#p27437" transform="translate(-1.25,0)"/><use href="#p27437" transform="translate(0.00,0)"/><use href="#p27437" transform="translate(1.25,0)"/><use href="#p27437" transform="translate(2.50,0)"/><use href="#p27437" transform="translate(3.75,0)"/></g>
<path d="M2442,299.4 C2530,350 2620,372 2680,369 C2745,367 2800,346 2846,318" fill="none" stroke="#1c1818" stroke-width="20"/>
<path d="M2876.5,300.7 L2832.7,299.8 L2852.3,334.3 Z" fill="#1c1818"/>
<path d="M2440,893 C2530,846 2610,823 2670,825 C2740,828 2800,850 2846,878" fill="none" stroke="#1c1818" stroke-width="20"/>
<path d="M2874.6,890.6 L2850.4,859.9 L2832.7,891.5 Z" fill="#1c1818"/>
<rect x="2279" y="374" width="24.4" height="470" fill="#1c1818"/>
<path d="M2266.5,838.5 Q2275,842 2281,841 L2301,841 Q2307,842 2313.5,839 Q2298,851 2290.3,862.5 Q2282,851 2266.5,838.5 Z" fill="#1c1818"/>
<text transform="translate(2108.88,334.90) scale(1.0055,1)" font-size="59" fill="#1a1a1a" stroke="#1a1a1a" stroke-width="0" style="white-space:pre">FAM-Lprobe</text>
<text transform="translate(2103.08,1046.60) scale(1.0055,1)" font-size="59" fill="#1a1a1a" stroke="#1a1a1a" stroke-width="0" style="white-space:pre">FAM-Lprobe</text>
<text transform="translate(2157.30,990.10) scale(0.9880,1)" font-size="59" fill="#1a1a1a" stroke="#1a1a1a" stroke-width="0" style="white-space:pre">ds-cDNA-</text>
<text transform="translate(2107.79,664.60) scale(0.9850,1)" font-size="59" fill="#1a1a1a" stroke="#1a1a1a" stroke-width="0" style="white-space:pre">cDNA</text>
<text transform="translate(2599.40,777.70) scale(0.9922,1)" font-size="59" fill="#1a1a1a" stroke="#1a1a1a" stroke-width="0" style="white-space:pre">GQD</text>
<text transform="translate(2941.49,443.00) scale(0.9922,1)" font-size="59" fill="#1a1a1a" stroke="#1a1a1a" stroke-width="0" style="white-space:pre">quenching</text>
<text transform="translate(2904.65,1116.20) scale(0.9930,1)" font-size="59" fill="#1a1a1a" stroke="#1a1a1a" stroke-width="0" style="white-space:pre">no quenching</text>
<text transform="translate(2633.74,1192.70) scale(0.9703,1)" font-size="60" fill="#1a1a1a" stroke="#1a1a1a" stroke-width="0" style="white-space:pre">(b)</text>
<text transform="translate(2626.80,256.00) scale(1.0221,1)" font-size="60" fill="#1a1a1a" stroke="#1a1a1a" stroke-width="0" style="white-space:pre">(</text>
<text transform="translate(2664.77,255.80) scale(0.9306,1)" font-size="66.7" fill="#1a1a1a" stroke="#1a1a1a" stroke-width="0" style="white-space:pre">I</text>
<text transform="translate(2703.99,256.00) scale(1.0482,1)" font-size="60" fill="#1a1a1a" stroke="#1a1a1a" stroke-width="0" style="white-space:pre">)</text>
<text transform="translate(2614.90,971.00) scale(1.0221,1)" font-size="60" fill="#1a1a1a" stroke="#1a1a1a" stroke-width="0" style="white-space:pre">(</text>
<text transform="translate(2644.00,970.80) scale(0.8731,1)" font-size="66.7" fill="#1a1a1a" stroke="#1a1a1a" stroke-width="0" style="white-space:pre">I</text>
<text transform="translate(2663.00,970.80) scale(0.8731,1)" font-size="66.7" fill="#1a1a1a" stroke="#1a1a1a" stroke-width="0" style="white-space:pre">I</text>
<text transform="translate(2692.14,971.00) scale(1.0221,1)" font-size="60" fill="#1a1a1a" stroke="#1a1a1a" stroke-width="0" style="white-space:pre">)</text>
</svg></body></html>
